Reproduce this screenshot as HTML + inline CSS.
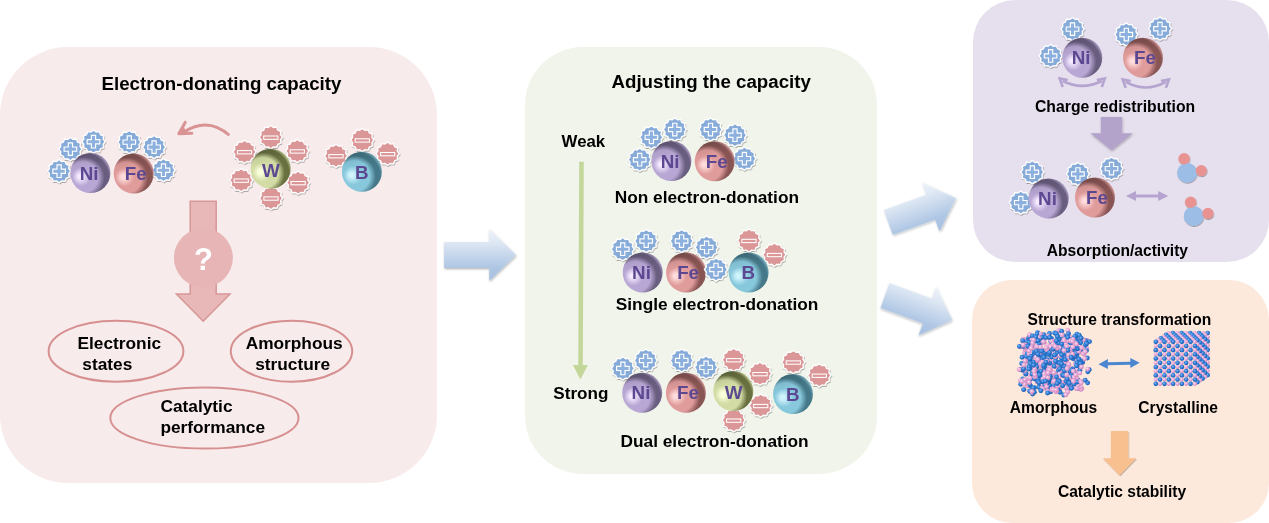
<!DOCTYPE html>
<html><head><meta charset="utf-8"><title>Electron-donating capacity</title>
<style>html,body{margin:0;padding:0;background:#fff;width:1269px;height:523px;overflow:hidden}
svg{display:block;font-family:"Liberation Sans",sans-serif;will-change:transform}</style></head>
<body><svg width="1269" height="523" viewBox="0 0 1269 523" font-family="Liberation Sans, sans-serif"><defs><radialGradient id="gNi" cx="0.37" cy="0.63" r="0.7" fx="0.23" fy="0.58">
<stop offset="0" stop-color="#F5EAFF"/><stop offset="0.07" stop-color="#F5EAFF"/><stop offset="0.33" stop-color="#B8A7D4"/><stop offset="0.55" stop-color="#B8A7D4"/>
<stop offset="0.74" stop-color="#6A5E80"/><stop offset="0.87" stop-color="#6A5E80"/><stop offset="0.98" stop-color="#B4A4CC"/></radialGradient><radialGradient id="gFe" cx="0.37" cy="0.63" r="0.7" fx="0.23" fy="0.58">
<stop offset="0" stop-color="#FFDCDC"/><stop offset="0.07" stop-color="#FFDCDC"/><stop offset="0.33" stop-color="#E09C9B"/><stop offset="0.55" stop-color="#E09C9B"/>
<stop offset="0.74" stop-color="#885454"/><stop offset="0.87" stop-color="#885454"/><stop offset="0.98" stop-color="#DDA0A0"/></radialGradient><radialGradient id="gW" cx="0.37" cy="0.63" r="0.7" fx="0.23" fy="0.58">
<stop offset="0" stop-color="#FAFFDC"/><stop offset="0.07" stop-color="#FAFFDC"/><stop offset="0.33" stop-color="#D2DCA4"/><stop offset="0.55" stop-color="#D2DCA4"/>
<stop offset="0.74" stop-color="#697040"/><stop offset="0.87" stop-color="#697040"/><stop offset="0.98" stop-color="#C4CC94"/></radialGradient><radialGradient id="gB" cx="0.37" cy="0.63" r="0.7" fx="0.23" fy="0.58">
<stop offset="0" stop-color="#D0F4FC"/><stop offset="0.07" stop-color="#D0F4FC"/><stop offset="0.33" stop-color="#88C8DC"/><stop offset="0.55" stop-color="#88C8DC"/>
<stop offset="0.74" stop-color="#457888"/><stop offset="0.87" stop-color="#457888"/><stop offset="0.98" stop-color="#84BACA"/></radialGradient><linearGradient id="gTop" x1="0" y1="0" x2="0.25" y2="1"><stop offset="0" stop-color="#000" stop-opacity="0.16"/><stop offset="0.45" stop-color="#000" stop-opacity="0"/></linearGradient><linearGradient id="gArrow" x1="0" y1="0" x2="0" y2="1">
<stop offset="0" stop-color="#EEF3FA"/><stop offset="0.25" stop-color="#DFE8F4"/><stop offset="0.75" stop-color="#AEC6E4"/><stop offset="1" stop-color="#A6C0E1"/></linearGradient><filter id="sh" x="-30%" y="-30%" width="160%" height="160%">
<feDropShadow dx="0.5" dy="1.0" stdDeviation="0.7" flood-color="#000" flood-opacity="0.36"/></filter><filter id="sh2" x="-30%" y="-30%" width="160%" height="160%">
<feDropShadow dx="0.6" dy="1.2" stdDeviation="0.9" flood-color="#000" flood-opacity="0.3"/></filter><radialGradient id="ab" cx="0.4" cy="0.38" r="0.62"><stop offset="0" stop-color="#7FB6F2"/><stop offset="0.5" stop-color="#2F7DD6"/><stop offset="1" stop-color="#1C5EB0"/></radialGradient><radialGradient id="ap" cx="0.4" cy="0.38" r="0.62"><stop offset="0" stop-color="#FBE0F2"/><stop offset="0.5" stop-color="#E8A8D6"/><stop offset="1" stop-color="#C987B8"/></radialGradient></defs><rect x="0" y="47" width="437" height="436" rx="68" ry="68" fill="#F8EBEC"/>
<rect x="525" y="47" width="352" height="427" rx="58" ry="58" fill="#F1F4EA"/>
<rect x="973" y="0" width="296" height="262" rx="42" ry="42" fill="#E6E0EE"/>
<rect x="972" y="280" width="297" height="243" rx="40" ry="40" fill="#FDE9DB"/>
<text x="101.5" y="90" font-size="18.7" font-weight="bold" fill="#000" text-anchor="start">Electron-donating capacity</text>
<path d="M59.10,159.60 L61.69,161.54 L64.90,161.15 L66.17,164.13 L69.15,165.40 L68.76,168.61 L70.70,171.20 L68.76,173.79 L69.15,177.00 L66.17,178.27 L64.90,181.25 L61.69,180.86 L59.10,182.80 L56.51,180.86 L53.30,181.25 L52.03,178.27 L49.05,177.00 L49.44,173.79 L47.50,171.20 L49.44,168.61 L49.05,165.40 L52.03,164.13 L53.30,161.15 L56.51,161.54Z" fill="#86ABD8" stroke="#FFFFFF" stroke-width="1.3" filter="url(#sh)"/>
<path d="M57.0,164.89999999999998 H61.2 V169.1 H65.4 V173.29999999999998 H61.2 V177.5 H57.0 V173.29999999999998 H52.800000000000004 V169.1 H57.0Z" fill="#8CB1DE" stroke="#FFFFFF" stroke-width="1.15" stroke-linejoin="miter"/>
<path d="M70.40,137.50 L72.99,139.44 L76.20,139.05 L77.47,142.03 L80.45,143.30 L80.06,146.51 L82.00,149.10 L80.06,151.69 L80.45,154.90 L77.47,156.17 L76.20,159.15 L72.99,158.76 L70.40,160.70 L67.81,158.76 L64.60,159.15 L63.33,156.17 L60.35,154.90 L60.74,151.69 L58.80,149.10 L60.74,146.51 L60.35,143.30 L63.33,142.03 L64.60,139.05 L67.81,139.44Z" fill="#86ABD8" stroke="#FFFFFF" stroke-width="1.3" filter="url(#sh)"/>
<path d="M68.30000000000001,142.79999999999998 H72.5 V147.0 H76.7 V151.2 H72.5 V155.4 H68.30000000000001 V151.2 H64.10000000000001 V147.0 H68.30000000000001Z" fill="#8CB1DE" stroke="#FFFFFF" stroke-width="1.15" stroke-linejoin="miter"/>
<path d="M93.50,130.10 L96.09,132.04 L99.30,131.65 L100.57,134.63 L103.55,135.90 L103.16,139.11 L105.10,141.70 L103.16,144.29 L103.55,147.50 L100.57,148.77 L99.30,151.75 L96.09,151.36 L93.50,153.30 L90.91,151.36 L87.70,151.75 L86.43,148.77 L83.45,147.50 L83.84,144.29 L81.90,141.70 L83.84,139.11 L83.45,135.90 L86.43,134.63 L87.70,131.65 L90.91,132.04Z" fill="#86ABD8" stroke="#FFFFFF" stroke-width="1.3" filter="url(#sh)"/>
<path d="M91.4,135.39999999999998 H95.6 V139.6 H99.8 V143.79999999999998 H95.6 V148.0 H91.4 V143.79999999999998 H87.2 V139.6 H91.4Z" fill="#8CB1DE" stroke="#FFFFFF" stroke-width="1.15" stroke-linejoin="miter"/>
<path d="M129.30,130.50 L131.89,132.44 L135.10,132.05 L136.37,135.03 L139.35,136.30 L138.96,139.51 L140.90,142.10 L138.96,144.69 L139.35,147.90 L136.37,149.17 L135.10,152.15 L131.89,151.76 L129.30,153.70 L126.71,151.76 L123.50,152.15 L122.23,149.17 L119.25,147.90 L119.64,144.69 L117.70,142.10 L119.64,139.51 L119.25,136.30 L122.23,135.03 L123.50,132.05 L126.71,132.44Z" fill="#86ABD8" stroke="#FFFFFF" stroke-width="1.3" filter="url(#sh)"/>
<path d="M127.20000000000002,135.79999999999998 H131.4 V140.0 H135.60000000000002 V144.2 H131.4 V148.4 H127.20000000000002 V144.2 H123.00000000000001 V140.0 H127.20000000000002Z" fill="#8CB1DE" stroke="#FFFFFF" stroke-width="1.15" stroke-linejoin="miter"/>
<path d="M154.10,135.50 L156.69,137.44 L159.90,137.05 L161.17,140.03 L164.15,141.30 L163.76,144.51 L165.70,147.10 L163.76,149.69 L164.15,152.90 L161.17,154.17 L159.90,157.15 L156.69,156.76 L154.10,158.70 L151.51,156.76 L148.30,157.15 L147.03,154.17 L144.05,152.90 L144.44,149.69 L142.50,147.10 L144.44,144.51 L144.05,141.30 L147.03,140.03 L148.30,137.05 L151.51,137.44Z" fill="#86ABD8" stroke="#FFFFFF" stroke-width="1.3" filter="url(#sh)"/>
<path d="M152.0,140.79999999999998 H156.2 V145.0 H160.4 V149.2 H156.2 V153.4 H152.0 V149.2 H147.79999999999998 V145.0 H152.0Z" fill="#8CB1DE" stroke="#FFFFFF" stroke-width="1.15" stroke-linejoin="miter"/>
<path d="M163.50,158.60 L166.09,160.54 L169.30,160.15 L170.57,163.13 L173.55,164.40 L173.16,167.61 L175.10,170.20 L173.16,172.79 L173.55,176.00 L170.57,177.27 L169.30,180.25 L166.09,179.86 L163.50,181.80 L160.91,179.86 L157.70,180.25 L156.43,177.27 L153.45,176.00 L153.84,172.79 L151.90,170.20 L153.84,167.61 L153.45,164.40 L156.43,163.13 L157.70,160.15 L160.91,160.54Z" fill="#86ABD8" stroke="#FFFFFF" stroke-width="1.3" filter="url(#sh)"/>
<path d="M161.4,163.89999999999998 H165.6 V168.1 H169.8 V172.29999999999998 H165.6 V176.5 H161.4 V172.29999999999998 H157.2 V168.1 H161.4Z" fill="#8CB1DE" stroke="#FFFFFF" stroke-width="1.15" stroke-linejoin="miter"/>
<circle cx="90.4" cy="173" r="20" fill="url(#gNi)"/>
<circle cx="90.4" cy="173" r="20" fill="url(#gTop)"/>
<text x="89.2" y="179.6" text-anchor="middle" font-size="18.8" font-weight="bold" fill="#5C4891">Ni</text>
<circle cx="133.7" cy="173.5" r="20" fill="url(#gFe)"/>
<circle cx="133.7" cy="173.5" r="20" fill="url(#gTop)"/>
<text x="135.7" y="180.0" text-anchor="middle" font-size="18.8" font-weight="bold" fill="#5C4891">Fe</text>
<path d="M229.3,135.3 Q208,116.5 184,132" fill="none" stroke="#D99393" stroke-width="2.8" stroke-linecap="butt"/>
<path d="M185.2,122.4 L178.8,133.7 L191.8,133.2" fill="none" stroke="#D99393" stroke-width="3" stroke-linejoin="round" stroke-linecap="round"/>
<path d="M178.8,133.7 L183.6,125.8 L186.5,133.4Z" fill="#D99393"/>
<path d="M270.80,125.60 L273.39,127.54 L276.60,127.15 L277.87,130.13 L280.85,131.40 L280.46,134.61 L282.40,137.20 L280.46,139.79 L280.85,143.00 L277.87,144.27 L276.60,147.25 L273.39,146.86 L270.80,148.80 L268.21,146.86 L265.00,147.25 L263.73,144.27 L260.75,143.00 L261.14,139.79 L259.20,137.20 L261.14,134.61 L260.75,131.40 L263.73,130.13 L265.00,127.15 L268.21,127.54Z" fill="#DB9697" stroke="#FFFFFF" stroke-width="1.3" filter="url(#sh)"/>
<rect x="263.7" y="136.0" width="14.2" height="3.3" fill="#DB9697" stroke="#FFFFFF" stroke-width="1.05"/>
<path d="M244.50,140.20 L247.09,142.14 L250.30,141.75 L251.57,144.73 L254.55,146.00 L254.16,149.21 L256.10,151.80 L254.16,154.39 L254.55,157.60 L251.57,158.87 L250.30,161.85 L247.09,161.46 L244.50,163.40 L241.91,161.46 L238.70,161.85 L237.43,158.87 L234.45,157.60 L234.84,154.39 L232.90,151.80 L234.84,149.21 L234.45,146.00 L237.43,144.73 L238.70,141.75 L241.91,142.14Z" fill="#DB9697" stroke="#FFFFFF" stroke-width="1.3" filter="url(#sh)"/>
<rect x="237.4" y="150.60000000000002" width="14.2" height="3.3" fill="#DB9697" stroke="#FFFFFF" stroke-width="1.05"/>
<path d="M297.30,139.40 L299.89,141.34 L303.10,140.95 L304.37,143.93 L307.35,145.20 L306.96,148.41 L308.90,151.00 L306.96,153.59 L307.35,156.80 L304.37,158.07 L303.10,161.05 L299.89,160.66 L297.30,162.60 L294.71,160.66 L291.50,161.05 L290.23,158.07 L287.25,156.80 L287.64,153.59 L285.70,151.00 L287.64,148.41 L287.25,145.20 L290.23,143.93 L291.50,140.95 L294.71,141.34Z" fill="#DB9697" stroke="#FFFFFF" stroke-width="1.3" filter="url(#sh)"/>
<rect x="290.2" y="149.8" width="14.2" height="3.3" fill="#DB9697" stroke="#FFFFFF" stroke-width="1.05"/>
<path d="M241.20,168.60 L243.79,170.54 L247.00,170.15 L248.27,173.13 L251.25,174.40 L250.86,177.61 L252.80,180.20 L250.86,182.79 L251.25,186.00 L248.27,187.27 L247.00,190.25 L243.79,189.86 L241.20,191.80 L238.61,189.86 L235.40,190.25 L234.13,187.27 L231.15,186.00 L231.54,182.79 L229.60,180.20 L231.54,177.61 L231.15,174.40 L234.13,173.13 L235.40,170.15 L238.61,170.54Z" fill="#DB9697" stroke="#FFFFFF" stroke-width="1.3" filter="url(#sh)"/>
<rect x="234.1" y="179.0" width="14.2" height="3.3" fill="#DB9697" stroke="#FFFFFF" stroke-width="1.05"/>
<path d="M298.10,171.10 L300.69,173.04 L303.90,172.65 L305.17,175.63 L308.15,176.90 L307.76,180.11 L309.70,182.70 L307.76,185.29 L308.15,188.50 L305.17,189.77 L303.90,192.75 L300.69,192.36 L298.10,194.30 L295.51,192.36 L292.30,192.75 L291.03,189.77 L288.05,188.50 L288.44,185.29 L286.50,182.70 L288.44,180.11 L288.05,176.90 L291.03,175.63 L292.30,172.65 L295.51,173.04Z" fill="#DB9697" stroke="#FFFFFF" stroke-width="1.3" filter="url(#sh)"/>
<rect x="291.0" y="181.5" width="14.2" height="3.3" fill="#DB9697" stroke="#FFFFFF" stroke-width="1.05"/>
<path d="M271.00,186.50 L273.59,188.44 L276.80,188.05 L278.07,191.03 L281.05,192.30 L280.66,195.51 L282.60,198.10 L280.66,200.69 L281.05,203.90 L278.07,205.17 L276.80,208.15 L273.59,207.76 L271.00,209.70 L268.41,207.76 L265.20,208.15 L263.93,205.17 L260.95,203.90 L261.34,200.69 L259.40,198.10 L261.34,195.51 L260.95,192.30 L263.93,191.03 L265.20,188.05 L268.41,188.44Z" fill="#DB9697" stroke="#FFFFFF" stroke-width="1.3" filter="url(#sh)"/>
<rect x="263.9" y="196.9" width="14.2" height="3.3" fill="#DB9697" stroke="#FFFFFF" stroke-width="1.05"/>
<circle cx="270.7" cy="168.7" r="20" fill="url(#gW)"/>
<circle cx="270.7" cy="168.7" r="20" fill="url(#gTop)"/>
<text x="270.9" y="176.7" text-anchor="middle" font-size="18.8" font-weight="bold" fill="#5C4891">W</text>
<path d="M362.30,128.40 L364.89,130.34 L368.10,129.95 L369.37,132.93 L372.35,134.20 L371.96,137.41 L373.90,140.00 L371.96,142.59 L372.35,145.80 L369.37,147.07 L368.10,150.05 L364.89,149.66 L362.30,151.60 L359.71,149.66 L356.50,150.05 L355.23,147.07 L352.25,145.80 L352.64,142.59 L350.70,140.00 L352.64,137.41 L352.25,134.20 L355.23,132.93 L356.50,129.95 L359.71,130.34Z" fill="#DB9697" stroke="#FFFFFF" stroke-width="1.3" filter="url(#sh)"/>
<rect x="355.2" y="138.8" width="14.2" height="3.3" fill="#DB9697" stroke="#FFFFFF" stroke-width="1.05"/>
<path d="M336.00,144.20 L338.59,146.14 L341.80,145.75 L343.07,148.73 L346.05,150.00 L345.66,153.21 L347.60,155.80 L345.66,158.39 L346.05,161.60 L343.07,162.87 L341.80,165.85 L338.59,165.46 L336.00,167.40 L333.41,165.46 L330.20,165.85 L328.93,162.87 L325.95,161.60 L326.34,158.39 L324.40,155.80 L326.34,153.21 L325.95,150.00 L328.93,148.73 L330.20,145.75 L333.41,146.14Z" fill="#DB9697" stroke="#FFFFFF" stroke-width="1.3" filter="url(#sh)"/>
<rect x="328.9" y="154.60000000000002" width="14.2" height="3.3" fill="#DB9697" stroke="#FFFFFF" stroke-width="1.05"/>
<path d="M387.60,142.10 L390.19,144.04 L393.40,143.65 L394.67,146.63 L397.65,147.90 L397.26,151.11 L399.20,153.70 L397.26,156.29 L397.65,159.50 L394.67,160.77 L393.40,163.75 L390.19,163.36 L387.60,165.30 L385.01,163.36 L381.80,163.75 L380.53,160.77 L377.55,159.50 L377.94,156.29 L376.00,153.70 L377.94,151.11 L377.55,147.90 L380.53,146.63 L381.80,143.65 L385.01,144.04Z" fill="#DB9697" stroke="#FFFFFF" stroke-width="1.3" filter="url(#sh)"/>
<rect x="380.5" y="152.5" width="14.2" height="3.3" fill="#DB9697" stroke="#FFFFFF" stroke-width="1.05"/>
<circle cx="361.9" cy="171.8" r="20" fill="url(#gB)"/>
<circle cx="361.9" cy="171.8" r="20" fill="url(#gTop)"/>
<text x="361.7" y="178.5" text-anchor="middle" font-size="18.8" font-weight="bold" fill="#5C4891">B</text>
<path d="M190.20,201.30 L216.20,201.30 L216.20,294.00 L230.00,294.00 L203.20,321.30 L176.40,294.00 L190.20,294.00Z" fill="#E8B8B8" stroke="#D79797" stroke-width="1.5"/>
<circle cx="203.4" cy="257.8" r="29.5" fill="#E7B5B6"/>
<text x="203.4" y="269.5" text-anchor="middle" font-size="31" font-weight="bold" fill="#FFFFFF">?</text>
<ellipse cx="116" cy="351.2" rx="67.4" ry="30.5" fill="none" stroke="#D69090" stroke-width="2"/>
<ellipse cx="291.5" cy="351.2" rx="60.7" ry="30.5" fill="none" stroke="#D69090" stroke-width="2"/>
<ellipse cx="204.4" cy="418" rx="94.1" ry="30.6" fill="none" stroke="#D69090" stroke-width="2"/>
<text x="77.5" y="348.7" font-size="17.3" font-weight="bold" fill="#000" text-anchor="start">Electronic</text>
<text x="82.3" y="369.5" font-size="17.3" font-weight="bold" fill="#000" text-anchor="start">states</text>
<text x="245.7" y="348.7" font-size="17.3" font-weight="bold" fill="#000" text-anchor="start">Amorphous</text>
<text x="255.20000000000002" y="369.5" font-size="17.3" font-weight="bold" fill="#000" text-anchor="start">structure</text>
<text x="160.5" y="412.3" font-size="17.3" font-weight="bold" fill="#000" text-anchor="start">Catalytic</text>
<text x="160.4" y="432.6" font-size="17.3" font-weight="bold" fill="#000" text-anchor="start">performance</text>
<g transform="translate(444.1,255) rotate(0)"><path d="M0.00,-12.90 L45.10,-12.90 L45.10,-26.10 L71.90,0.00 L45.10,26.10 L45.10,12.90 L0.00,12.90Z" fill="url(#gArrow)" filter="url(#sh2)"/></g>
<g transform="translate(888.2,222.5) rotate(-19.8)"><path d="M0.00,-13.25 L45.10,-13.25 L45.10,-26.10 L71.90,0.00 L45.10,26.10 L45.10,13.25 L0.00,13.25Z" fill="url(#gArrow)" filter="url(#sh2)"/></g>
<g transform="translate(885.0,295.5) rotate(20.0)"><path d="M0.00,-13.25 L45.10,-13.25 L45.10,-26.10 L71.90,0.00 L45.10,26.10 L45.10,13.25 L0.00,13.25Z" fill="url(#gArrow)" filter="url(#sh2)"/></g>
<text x="611.5" y="87.5" font-size="18.7" font-weight="bold" fill="#000" text-anchor="start">Adjusting the capacity</text>
<text x="561.6" y="146.9" font-size="16.8" font-weight="bold" fill="#000" text-anchor="start">Weak</text>
<text x="553.3" y="398.6" font-size="17.1" font-weight="bold" fill="#000" text-anchor="start">Strong</text>
<path d="M579.2,161.7 L583.8,161.7 L582.8,365.5 L578.2,365.5Z" fill="#C4D79B"/>
<path d="M572.9,365 L587.9,365 L580.4,379.4Z" fill="#C4D79B"/>
<path d="M639.70,148.10 L642.29,150.04 L645.50,149.65 L646.77,152.63 L649.75,153.90 L649.36,157.11 L651.30,159.70 L649.36,162.29 L649.75,165.50 L646.77,166.77 L645.50,169.75 L642.29,169.36 L639.70,171.30 L637.11,169.36 L633.90,169.75 L632.63,166.77 L629.65,165.50 L630.04,162.29 L628.10,159.70 L630.04,157.11 L629.65,153.90 L632.63,152.63 L633.90,149.65 L637.11,150.04Z" fill="#86ABD8" stroke="#FFFFFF" stroke-width="1.3" filter="url(#sh)"/>
<path d="M637.6,153.39999999999998 H641.8000000000001 V157.6 H646.0 V161.79999999999998 H641.8000000000001 V166.0 H637.6 V161.79999999999998 H633.4000000000001 V157.6 H637.6Z" fill="#8CB1DE" stroke="#FFFFFF" stroke-width="1.15" stroke-linejoin="miter"/>
<path d="M651.40,125.70 L653.99,127.64 L657.20,127.25 L658.47,130.23 L661.45,131.50 L661.06,134.71 L663.00,137.30 L661.06,139.89 L661.45,143.10 L658.47,144.37 L657.20,147.35 L653.99,146.96 L651.40,148.90 L648.81,146.96 L645.60,147.35 L644.33,144.37 L641.35,143.10 L641.74,139.89 L639.80,137.30 L641.74,134.71 L641.35,131.50 L644.33,130.23 L645.60,127.25 L648.81,127.64Z" fill="#86ABD8" stroke="#FFFFFF" stroke-width="1.3" filter="url(#sh)"/>
<path d="M649.3,131.0 H653.5 V135.20000000000002 H657.6999999999999 V139.4 H653.5 V143.60000000000002 H649.3 V139.4 H645.1 V135.20000000000002 H649.3Z" fill="#8CB1DE" stroke="#FFFFFF" stroke-width="1.15" stroke-linejoin="miter"/>
<path d="M674.80,117.90 L677.39,119.84 L680.60,119.45 L681.87,122.43 L684.85,123.70 L684.46,126.91 L686.40,129.50 L684.46,132.09 L684.85,135.30 L681.87,136.57 L680.60,139.55 L677.39,139.16 L674.80,141.10 L672.21,139.16 L669.00,139.55 L667.73,136.57 L664.75,135.30 L665.14,132.09 L663.20,129.50 L665.14,126.91 L664.75,123.70 L667.73,122.43 L669.00,119.45 L672.21,119.84Z" fill="#86ABD8" stroke="#FFFFFF" stroke-width="1.3" filter="url(#sh)"/>
<path d="M672.6999999999999,123.2 H676.9 V127.4 H681.0999999999999 V131.6 H676.9 V135.8 H672.6999999999999 V131.6 H668.5 V127.4 H672.6999999999999Z" fill="#8CB1DE" stroke="#FFFFFF" stroke-width="1.15" stroke-linejoin="miter"/>
<path d="M710.50,117.90 L713.09,119.84 L716.30,119.45 L717.57,122.43 L720.55,123.70 L720.16,126.91 L722.10,129.50 L720.16,132.09 L720.55,135.30 L717.57,136.57 L716.30,139.55 L713.09,139.16 L710.50,141.10 L707.91,139.16 L704.70,139.55 L703.43,136.57 L700.45,135.30 L700.84,132.09 L698.90,129.50 L700.84,126.91 L700.45,123.70 L703.43,122.43 L704.70,119.45 L707.91,119.84Z" fill="#86ABD8" stroke="#FFFFFF" stroke-width="1.3" filter="url(#sh)"/>
<path d="M708.4,123.2 H712.6 V127.4 H716.8 V131.6 H712.6 V135.8 H708.4 V131.6 H704.2 V127.4 H708.4Z" fill="#8CB1DE" stroke="#FFFFFF" stroke-width="1.15" stroke-linejoin="miter"/>
<path d="M735.00,123.60 L737.59,125.54 L740.80,125.15 L742.07,128.13 L745.05,129.40 L744.66,132.61 L746.60,135.20 L744.66,137.79 L745.05,141.00 L742.07,142.27 L740.80,145.25 L737.59,144.86 L735.00,146.80 L732.41,144.86 L729.20,145.25 L727.93,142.27 L724.95,141.00 L725.34,137.79 L723.40,135.20 L725.34,132.61 L724.95,129.40 L727.93,128.13 L729.20,125.15 L732.41,125.54Z" fill="#86ABD8" stroke="#FFFFFF" stroke-width="1.3" filter="url(#sh)"/>
<path d="M732.9,128.89999999999998 H737.1 V133.1 H741.3 V137.29999999999998 H737.1 V141.5 H732.9 V137.29999999999998 H728.7 V133.1 H732.9Z" fill="#8CB1DE" stroke="#FFFFFF" stroke-width="1.15" stroke-linejoin="miter"/>
<path d="M744.40,147.00 L746.99,148.94 L750.20,148.55 L751.47,151.53 L754.45,152.80 L754.06,156.01 L756.00,158.60 L754.06,161.19 L754.45,164.40 L751.47,165.67 L750.20,168.65 L746.99,168.26 L744.40,170.20 L741.81,168.26 L738.60,168.65 L737.33,165.67 L734.35,164.40 L734.74,161.19 L732.80,158.60 L734.74,156.01 L734.35,152.80 L737.33,151.53 L738.60,148.55 L741.81,148.94Z" fill="#86ABD8" stroke="#FFFFFF" stroke-width="1.3" filter="url(#sh)"/>
<path d="M742.3,152.29999999999998 H746.5 V156.5 H750.6999999999999 V160.7 H746.5 V164.9 H742.3 V160.7 H738.1 V156.5 H742.3Z" fill="#8CB1DE" stroke="#FFFFFF" stroke-width="1.15" stroke-linejoin="miter"/>
<circle cx="671.4" cy="161" r="20" fill="url(#gNi)"/>
<circle cx="671.4" cy="161" r="20" fill="url(#gTop)"/>
<text x="670.1999999999999" y="167.6" text-anchor="middle" font-size="18.8" font-weight="bold" fill="#5C4891">Ni</text>
<circle cx="714.7" cy="161.3" r="20" fill="url(#gFe)"/>
<circle cx="714.7" cy="161.3" r="20" fill="url(#gTop)"/>
<text x="716.7" y="167.8" text-anchor="middle" font-size="18.8" font-weight="bold" fill="#5C4891">Fe</text>
<text x="614.6999999999999" y="202.7" font-size="17.3" font-weight="bold" fill="#000" text-anchor="start">Non electron-donation</text>
<path d="M622.70,237.60 L625.29,239.54 L628.50,239.15 L629.77,242.13 L632.75,243.40 L632.36,246.61 L634.30,249.20 L632.36,251.79 L632.75,255.00 L629.77,256.27 L628.50,259.25 L625.29,258.86 L622.70,260.80 L620.11,258.86 L616.90,259.25 L615.63,256.27 L612.65,255.00 L613.04,251.79 L611.10,249.20 L613.04,246.61 L612.65,243.40 L615.63,242.13 L616.90,239.15 L620.11,239.54Z" fill="#86ABD8" stroke="#FFFFFF" stroke-width="1.3" filter="url(#sh)"/>
<path d="M620.6,242.89999999999998 H624.8000000000001 V247.1 H629.0 V251.29999999999998 H624.8000000000001 V255.5 H620.6 V251.29999999999998 H616.4000000000001 V247.1 H620.6Z" fill="#8CB1DE" stroke="#FFFFFF" stroke-width="1.15" stroke-linejoin="miter"/>
<path d="M646.20,229.40 L648.79,231.34 L652.00,230.95 L653.27,233.93 L656.25,235.20 L655.86,238.41 L657.80,241.00 L655.86,243.59 L656.25,246.80 L653.27,248.07 L652.00,251.05 L648.79,250.66 L646.20,252.60 L643.61,250.66 L640.40,251.05 L639.13,248.07 L636.15,246.80 L636.54,243.59 L634.60,241.00 L636.54,238.41 L636.15,235.20 L639.13,233.93 L640.40,230.95 L643.61,231.34Z" fill="#86ABD8" stroke="#FFFFFF" stroke-width="1.3" filter="url(#sh)"/>
<path d="M644.1,234.7 H648.3000000000001 V238.9 H652.5 V243.1 H648.3000000000001 V247.3 H644.1 V243.1 H639.9000000000001 V238.9 H644.1Z" fill="#8CB1DE" stroke="#FFFFFF" stroke-width="1.15" stroke-linejoin="miter"/>
<path d="M681.60,229.40 L684.19,231.34 L687.40,230.95 L688.67,233.93 L691.65,235.20 L691.26,238.41 L693.20,241.00 L691.26,243.59 L691.65,246.80 L688.67,248.07 L687.40,251.05 L684.19,250.66 L681.60,252.60 L679.01,250.66 L675.80,251.05 L674.53,248.07 L671.55,246.80 L671.94,243.59 L670.00,241.00 L671.94,238.41 L671.55,235.20 L674.53,233.93 L675.80,230.95 L679.01,231.34Z" fill="#86ABD8" stroke="#FFFFFF" stroke-width="1.3" filter="url(#sh)"/>
<path d="M679.5,234.7 H683.7 V238.9 H687.9 V243.1 H683.7 V247.3 H679.5 V243.1 H675.3000000000001 V238.9 H679.5Z" fill="#8CB1DE" stroke="#FFFFFF" stroke-width="1.15" stroke-linejoin="miter"/>
<path d="M706.60,235.80 L709.19,237.74 L712.40,237.35 L713.67,240.33 L716.65,241.60 L716.26,244.81 L718.20,247.40 L716.26,249.99 L716.65,253.20 L713.67,254.47 L712.40,257.45 L709.19,257.06 L706.60,259.00 L704.01,257.06 L700.80,257.45 L699.53,254.47 L696.55,253.20 L696.94,249.99 L695.00,247.40 L696.94,244.81 L696.55,241.60 L699.53,240.33 L700.80,237.35 L704.01,237.74Z" fill="#86ABD8" stroke="#FFFFFF" stroke-width="1.3" filter="url(#sh)"/>
<path d="M704.5,241.1 H708.7 V245.3 H712.9 V249.5 H708.7 V253.70000000000002 H704.5 V249.5 H700.3000000000001 V245.3 H704.5Z" fill="#8CB1DE" stroke="#FFFFFF" stroke-width="1.15" stroke-linejoin="miter"/>
<path d="M749.00,228.90 L751.59,230.84 L754.80,230.45 L756.07,233.43 L759.05,234.70 L758.66,237.91 L760.60,240.50 L758.66,243.09 L759.05,246.30 L756.07,247.57 L754.80,250.55 L751.59,250.16 L749.00,252.10 L746.41,250.16 L743.20,250.55 L741.93,247.57 L738.95,246.30 L739.34,243.09 L737.40,240.50 L739.34,237.91 L738.95,234.70 L741.93,233.43 L743.20,230.45 L746.41,230.84Z" fill="#DB9697" stroke="#FFFFFF" stroke-width="1.3" filter="url(#sh)"/>
<rect x="741.9" y="239.3" width="14.2" height="3.3" fill="#DB9697" stroke="#FFFFFF" stroke-width="1.05"/>
<path d="M774.40,243.00 L776.99,244.94 L780.20,244.55 L781.47,247.53 L784.45,248.80 L784.06,252.01 L786.00,254.60 L784.06,257.19 L784.45,260.40 L781.47,261.67 L780.20,264.65 L776.99,264.26 L774.40,266.20 L771.81,264.26 L768.60,264.65 L767.33,261.67 L764.35,260.40 L764.74,257.19 L762.80,254.60 L764.74,252.01 L764.35,248.80 L767.33,247.53 L768.60,244.55 L771.81,244.94Z" fill="#DB9697" stroke="#FFFFFF" stroke-width="1.3" filter="url(#sh)"/>
<rect x="767.3" y="253.4" width="14.2" height="3.3" fill="#DB9697" stroke="#FFFFFF" stroke-width="1.05"/>
<circle cx="642.7" cy="272.5" r="20" fill="url(#gNi)"/>
<circle cx="642.7" cy="272.5" r="20" fill="url(#gTop)"/>
<text x="641.5" y="279.1" text-anchor="middle" font-size="18.8" font-weight="bold" fill="#5C4891">Ni</text>
<circle cx="686.1" cy="272.5" r="20" fill="url(#gFe)"/>
<circle cx="686.1" cy="272.5" r="20" fill="url(#gTop)"/>
<text x="688.1" y="279.0" text-anchor="middle" font-size="18.8" font-weight="bold" fill="#5C4891">Fe</text>
<path d="M716.00,257.90 L718.59,259.84 L721.80,259.45 L723.07,262.43 L726.05,263.70 L725.66,266.91 L727.60,269.50 L725.66,272.09 L726.05,275.30 L723.07,276.57 L721.80,279.55 L718.59,279.16 L716.00,281.10 L713.41,279.16 L710.20,279.55 L708.93,276.57 L705.95,275.30 L706.34,272.09 L704.40,269.50 L706.34,266.91 L705.95,263.70 L708.93,262.43 L710.20,259.45 L713.41,259.84Z" fill="#86ABD8" stroke="#FFFFFF" stroke-width="1.3" filter="url(#sh)"/>
<path d="M713.9,263.2 H718.1 V267.4 H722.3 V271.6 H718.1 V275.8 H713.9 V271.6 H709.7 V267.4 H713.9Z" fill="#8CB1DE" stroke="#FFFFFF" stroke-width="1.15" stroke-linejoin="miter"/>
<circle cx="748.6" cy="272.5" r="20" fill="url(#gB)"/>
<circle cx="748.6" cy="272.5" r="20" fill="url(#gTop)"/>
<text x="748.4" y="279.2" text-anchor="middle" font-size="18.8" font-weight="bold" fill="#5C4891">B</text>
<text x="615.8" y="309.9" font-size="17.3" font-weight="bold" fill="#000" text-anchor="start">Single electron-donation</text>
<path d="M622.90,356.80 L625.49,358.74 L628.70,358.35 L629.97,361.33 L632.95,362.60 L632.56,365.81 L634.50,368.40 L632.56,370.99 L632.95,374.20 L629.97,375.47 L628.70,378.45 L625.49,378.06 L622.90,380.00 L620.31,378.06 L617.10,378.45 L615.83,375.47 L612.85,374.20 L613.24,370.99 L611.30,368.40 L613.24,365.81 L612.85,362.60 L615.83,361.33 L617.10,358.35 L620.31,358.74Z" fill="#86ABD8" stroke="#FFFFFF" stroke-width="1.3" filter="url(#sh)"/>
<path d="M620.8,362.09999999999997 H625.0 V366.29999999999995 H629.1999999999999 V370.5 H625.0 V374.7 H620.8 V370.5 H616.6 V366.29999999999995 H620.8Z" fill="#8CB1DE" stroke="#FFFFFF" stroke-width="1.15" stroke-linejoin="miter"/>
<path d="M645.70,348.90 L648.29,350.84 L651.50,350.45 L652.77,353.43 L655.75,354.70 L655.36,357.91 L657.30,360.50 L655.36,363.09 L655.75,366.30 L652.77,367.57 L651.50,370.55 L648.29,370.16 L645.70,372.10 L643.11,370.16 L639.90,370.55 L638.63,367.57 L635.65,366.30 L636.04,363.09 L634.10,360.50 L636.04,357.91 L635.65,354.70 L638.63,353.43 L639.90,350.45 L643.11,350.84Z" fill="#86ABD8" stroke="#FFFFFF" stroke-width="1.3" filter="url(#sh)"/>
<path d="M643.6,354.2 H647.8000000000001 V358.4 H652.0 V362.6 H647.8000000000001 V366.8 H643.6 V362.6 H639.4000000000001 V358.4 H643.6Z" fill="#8CB1DE" stroke="#FFFFFF" stroke-width="1.15" stroke-linejoin="miter"/>
<path d="M681.70,348.90 L684.29,350.84 L687.50,350.45 L688.77,353.43 L691.75,354.70 L691.36,357.91 L693.30,360.50 L691.36,363.09 L691.75,366.30 L688.77,367.57 L687.50,370.55 L684.29,370.16 L681.70,372.10 L679.11,370.16 L675.90,370.55 L674.63,367.57 L671.65,366.30 L672.04,363.09 L670.10,360.50 L672.04,357.91 L671.65,354.70 L674.63,353.43 L675.90,350.45 L679.11,350.84Z" fill="#86ABD8" stroke="#FFFFFF" stroke-width="1.3" filter="url(#sh)"/>
<path d="M679.6,354.2 H683.8000000000001 V358.4 H688.0 V362.6 H683.8000000000001 V366.8 H679.6 V362.6 H675.4000000000001 V358.4 H679.6Z" fill="#8CB1DE" stroke="#FFFFFF" stroke-width="1.15" stroke-linejoin="miter"/>
<path d="M706.10,355.80 L708.69,357.74 L711.90,357.35 L713.17,360.33 L716.15,361.60 L715.76,364.81 L717.70,367.40 L715.76,369.99 L716.15,373.20 L713.17,374.47 L711.90,377.45 L708.69,377.06 L706.10,379.00 L703.51,377.06 L700.30,377.45 L699.03,374.47 L696.05,373.20 L696.44,369.99 L694.50,367.40 L696.44,364.81 L696.05,361.60 L699.03,360.33 L700.30,357.35 L703.51,357.74Z" fill="#86ABD8" stroke="#FFFFFF" stroke-width="1.3" filter="url(#sh)"/>
<path d="M704.0,361.09999999999997 H708.2 V365.29999999999995 H712.4 V369.5 H708.2 V373.7 H704.0 V369.5 H699.8000000000001 V365.29999999999995 H704.0Z" fill="#8CB1DE" stroke="#FFFFFF" stroke-width="1.15" stroke-linejoin="miter"/>
<path d="M733.70,348.20 L736.29,350.14 L739.50,349.75 L740.77,352.73 L743.75,354.00 L743.36,357.21 L745.30,359.80 L743.36,362.39 L743.75,365.60 L740.77,366.87 L739.50,369.85 L736.29,369.46 L733.70,371.40 L731.11,369.46 L727.90,369.85 L726.63,366.87 L723.65,365.60 L724.04,362.39 L722.10,359.80 L724.04,357.21 L723.65,354.00 L726.63,352.73 L727.90,349.75 L731.11,350.14Z" fill="#DB9697" stroke="#FFFFFF" stroke-width="1.3" filter="url(#sh)"/>
<rect x="726.6" y="358.6" width="14.2" height="3.3" fill="#DB9697" stroke="#FFFFFF" stroke-width="1.05"/>
<path d="M760.00,362.10 L762.59,364.04 L765.80,363.65 L767.07,366.63 L770.05,367.90 L769.66,371.11 L771.60,373.70 L769.66,376.29 L770.05,379.50 L767.07,380.77 L765.80,383.75 L762.59,383.36 L760.00,385.30 L757.41,383.36 L754.20,383.75 L752.93,380.77 L749.95,379.50 L750.34,376.29 L748.40,373.70 L750.34,371.11 L749.95,367.90 L752.93,366.63 L754.20,363.65 L757.41,364.04Z" fill="#DB9697" stroke="#FFFFFF" stroke-width="1.3" filter="url(#sh)"/>
<rect x="752.9" y="372.5" width="14.2" height="3.3" fill="#DB9697" stroke="#FFFFFF" stroke-width="1.05"/>
<path d="M760.70,394.00 L763.29,395.94 L766.50,395.55 L767.77,398.53 L770.75,399.80 L770.36,403.01 L772.30,405.60 L770.36,408.19 L770.75,411.40 L767.77,412.67 L766.50,415.65 L763.29,415.26 L760.70,417.20 L758.11,415.26 L754.90,415.65 L753.63,412.67 L750.65,411.40 L751.04,408.19 L749.10,405.60 L751.04,403.01 L750.65,399.80 L753.63,398.53 L754.90,395.55 L758.11,395.94Z" fill="#DB9697" stroke="#FFFFFF" stroke-width="1.3" filter="url(#sh)"/>
<rect x="753.6" y="404.40000000000003" width="14.2" height="3.3" fill="#DB9697" stroke="#FFFFFF" stroke-width="1.05"/>
<path d="M733.70,408.60 L736.29,410.54 L739.50,410.15 L740.77,413.13 L743.75,414.40 L743.36,417.61 L745.30,420.20 L743.36,422.79 L743.75,426.00 L740.77,427.27 L739.50,430.25 L736.29,429.86 L733.70,431.80 L731.11,429.86 L727.90,430.25 L726.63,427.27 L723.65,426.00 L724.04,422.79 L722.10,420.20 L724.04,417.61 L723.65,414.40 L726.63,413.13 L727.90,410.15 L731.11,410.54Z" fill="#DB9697" stroke="#FFFFFF" stroke-width="1.3" filter="url(#sh)"/>
<rect x="726.6" y="419.0" width="14.2" height="3.3" fill="#DB9697" stroke="#FFFFFF" stroke-width="1.05"/>
<path d="M793.30,350.50 L795.89,352.44 L799.10,352.05 L800.37,355.03 L803.35,356.30 L802.96,359.51 L804.90,362.10 L802.96,364.69 L803.35,367.90 L800.37,369.17 L799.10,372.15 L795.89,371.76 L793.30,373.70 L790.71,371.76 L787.50,372.15 L786.23,369.17 L783.25,367.90 L783.64,364.69 L781.70,362.10 L783.64,359.51 L783.25,356.30 L786.23,355.03 L787.50,352.05 L790.71,352.44Z" fill="#DB9697" stroke="#FFFFFF" stroke-width="1.3" filter="url(#sh)"/>
<rect x="786.1999999999999" y="360.90000000000003" width="14.2" height="3.3" fill="#DB9697" stroke="#FFFFFF" stroke-width="1.05"/>
<path d="M819.30,363.70 L821.89,365.64 L825.10,365.25 L826.37,368.23 L829.35,369.50 L828.96,372.71 L830.90,375.30 L828.96,377.89 L829.35,381.10 L826.37,382.37 L825.10,385.35 L821.89,384.96 L819.30,386.90 L816.71,384.96 L813.50,385.35 L812.23,382.37 L809.25,381.10 L809.64,377.89 L807.70,375.30 L809.64,372.71 L809.25,369.50 L812.23,368.23 L813.50,365.25 L816.71,365.64Z" fill="#DB9697" stroke="#FFFFFF" stroke-width="1.3" filter="url(#sh)"/>
<rect x="812.1999999999999" y="374.1" width="14.2" height="3.3" fill="#DB9697" stroke="#FFFFFF" stroke-width="1.05"/>
<circle cx="642.2" cy="392.8" r="20" fill="url(#gNi)"/>
<circle cx="642.2" cy="392.8" r="20" fill="url(#gTop)"/>
<text x="641.0" y="399.40000000000003" text-anchor="middle" font-size="18.8" font-weight="bold" fill="#5C4891">Ni</text>
<circle cx="685.9" cy="392.8" r="20" fill="url(#gFe)"/>
<circle cx="685.9" cy="392.8" r="20" fill="url(#gTop)"/>
<text x="687.9" y="399.3" text-anchor="middle" font-size="18.8" font-weight="bold" fill="#5C4891">Fe</text>
<circle cx="733.3" cy="391.1" r="20" fill="url(#gW)"/>
<circle cx="733.3" cy="391.1" r="20" fill="url(#gTop)"/>
<text x="733.5" y="399.1" text-anchor="middle" font-size="18.8" font-weight="bold" fill="#5C4891">W</text>
<circle cx="793" cy="394.1" r="20" fill="url(#gB)"/>
<circle cx="793" cy="394.1" r="20" fill="url(#gTop)"/>
<text x="792.8" y="400.8" text-anchor="middle" font-size="18.8" font-weight="bold" fill="#5C4891">B</text>
<text x="620.5" y="446.5" font-size="17.3" font-weight="bold" fill="#000" text-anchor="start">Dual electron-donation</text>
<path d="M1050.60,44.30 L1053.19,46.24 L1056.40,45.85 L1057.67,48.83 L1060.65,50.10 L1060.26,53.31 L1062.20,55.90 L1060.26,58.49 L1060.65,61.70 L1057.67,62.97 L1056.40,65.95 L1053.19,65.56 L1050.60,67.50 L1048.01,65.56 L1044.80,65.95 L1043.53,62.97 L1040.55,61.70 L1040.94,58.49 L1039.00,55.90 L1040.94,53.31 L1040.55,50.10 L1043.53,48.83 L1044.80,45.85 L1048.01,46.24Z" fill="#86ABD8" stroke="#FFFFFF" stroke-width="1.3" filter="url(#sh)"/>
<path d="M1048.5,49.6 H1052.6999999999998 V53.8 H1056.8999999999999 V58.0 H1052.6999999999998 V62.199999999999996 H1048.5 V58.0 H1044.3 V53.8 H1048.5Z" fill="#8CB1DE" stroke="#FFFFFF" stroke-width="1.15" stroke-linejoin="miter"/>
<path d="M1072.50,17.50 L1075.09,19.44 L1078.30,19.05 L1079.57,22.03 L1082.55,23.30 L1082.16,26.51 L1084.10,29.10 L1082.16,31.69 L1082.55,34.90 L1079.57,36.17 L1078.30,39.15 L1075.09,38.76 L1072.50,40.70 L1069.91,38.76 L1066.70,39.15 L1065.43,36.17 L1062.45,34.90 L1062.84,31.69 L1060.90,29.10 L1062.84,26.51 L1062.45,23.30 L1065.43,22.03 L1066.70,19.05 L1069.91,19.44Z" fill="#86ABD8" stroke="#FFFFFF" stroke-width="1.3" filter="url(#sh)"/>
<path d="M1070.4,22.8 H1074.6 V27.0 H1078.8 V31.200000000000003 H1074.6 V35.4 H1070.4 V31.200000000000003 H1066.2 V27.0 H1070.4Z" fill="#8CB1DE" stroke="#FFFFFF" stroke-width="1.15" stroke-linejoin="miter"/>
<path d="M1126.30,22.90 L1128.89,24.84 L1132.10,24.45 L1133.37,27.43 L1136.35,28.70 L1135.96,31.91 L1137.90,34.50 L1135.96,37.09 L1136.35,40.30 L1133.37,41.57 L1132.10,44.55 L1128.89,44.16 L1126.30,46.10 L1123.71,44.16 L1120.50,44.55 L1119.23,41.57 L1116.25,40.30 L1116.64,37.09 L1114.70,34.50 L1116.64,31.91 L1116.25,28.70 L1119.23,27.43 L1120.50,24.45 L1123.71,24.84Z" fill="#86ABD8" stroke="#FFFFFF" stroke-width="1.3" filter="url(#sh)"/>
<path d="M1124.2,28.2 H1128.3999999999999 V32.4 H1132.6 V36.6 H1128.3999999999999 V40.8 H1124.2 V36.6 H1120.0 V32.4 H1124.2Z" fill="#8CB1DE" stroke="#FFFFFF" stroke-width="1.15" stroke-linejoin="miter"/>
<path d="M1160.00,17.10 L1162.59,19.04 L1165.80,18.65 L1167.07,21.63 L1170.05,22.90 L1169.66,26.11 L1171.60,28.70 L1169.66,31.29 L1170.05,34.50 L1167.07,35.77 L1165.80,38.75 L1162.59,38.36 L1160.00,40.30 L1157.41,38.36 L1154.20,38.75 L1152.93,35.77 L1149.95,34.50 L1150.34,31.29 L1148.40,28.70 L1150.34,26.11 L1149.95,22.90 L1152.93,21.63 L1154.20,18.65 L1157.41,19.04Z" fill="#86ABD8" stroke="#FFFFFF" stroke-width="1.3" filter="url(#sh)"/>
<path d="M1157.9,22.4 H1162.1 V26.599999999999998 H1166.3 V30.8 H1162.1 V35.0 H1157.9 V30.8 H1153.7 V26.599999999999998 H1157.9Z" fill="#8CB1DE" stroke="#FFFFFF" stroke-width="1.15" stroke-linejoin="miter"/>
<circle cx="1082.3" cy="57.7" r="20" fill="url(#gNi)"/>
<circle cx="1082.3" cy="57.7" r="20" fill="url(#gTop)"/>
<text x="1081.1" y="64.3" text-anchor="middle" font-size="18.8" font-weight="bold" fill="#5C4891">Ni</text>
<circle cx="1143" cy="57.7" r="20" fill="url(#gFe)"/>
<circle cx="1143" cy="57.7" r="20" fill="url(#gTop)"/>
<text x="1145.0" y="64.2" text-anchor="middle" font-size="18.8" font-weight="bold" fill="#5C4891">Fe</text>
<path d="M1062.7,81.0 Q1082.25,90.80000000000001 1101.8,81.0" fill="none" stroke="#B5A4CF" stroke-width="2.6"/>
<path d="M1067.7,80.1 L1059.7,78.5 L1062.7,87.0" fill="none" stroke="#B5A4CF" stroke-width="2.6" stroke-linejoin="miter"/>
<path d="M1096.8,80.1 L1104.8,78.5 L1101.8,87.0" fill="none" stroke="#B5A4CF" stroke-width="2.6" stroke-linejoin="miter"/>
<path d="M1125.7,81.9 Q1145.8000000000002,93.1 1165.9,81.9" fill="none" stroke="#B5A4CF" stroke-width="2.6"/>
<path d="M1130.7,81.0 L1122.7,79.4 L1125.7,87.9" fill="none" stroke="#B5A4CF" stroke-width="2.6" stroke-linejoin="miter"/>
<path d="M1160.9,81.0 L1168.9,79.4 L1165.9,87.9" fill="none" stroke="#B5A4CF" stroke-width="2.6" stroke-linejoin="miter"/>
<text x="1035.0" y="111.8" font-size="15.75" font-weight="bold" fill="#000" text-anchor="start">Charge redistribution</text>
<path d="M1100.85,117.00 L1122.15,117.00 L1122.15,133.30 L1132.65,133.30 L1111.50,150.30 L1090.35,133.30 L1100.85,133.30Z" fill="#B3A2CA" filter="url(#sh2)"/>
<path d="M1020.80,191.00 L1023.39,192.94 L1026.60,192.55 L1027.87,195.53 L1030.85,196.80 L1030.46,200.01 L1032.40,202.60 L1030.46,205.19 L1030.85,208.40 L1027.87,209.67 L1026.60,212.65 L1023.39,212.26 L1020.80,214.20 L1018.21,212.26 L1015.00,212.65 L1013.73,209.67 L1010.75,208.40 L1011.14,205.19 L1009.20,202.60 L1011.14,200.01 L1010.75,196.80 L1013.73,195.53 L1015.00,192.55 L1018.21,192.94Z" fill="#86ABD8" stroke="#FFFFFF" stroke-width="1.3" filter="url(#sh)"/>
<path d="M1018.6999999999999,196.29999999999998 H1022.9 V200.5 H1027.1 V204.7 H1022.9 V208.9 H1018.6999999999999 V204.7 H1014.5 V200.5 H1018.6999999999999Z" fill="#8CB1DE" stroke="#FFFFFF" stroke-width="1.15" stroke-linejoin="miter"/>
<path d="M1032.30,160.60 L1034.89,162.54 L1038.10,162.15 L1039.37,165.13 L1042.35,166.40 L1041.96,169.61 L1043.90,172.20 L1041.96,174.79 L1042.35,178.00 L1039.37,179.27 L1038.10,182.25 L1034.89,181.86 L1032.30,183.80 L1029.71,181.86 L1026.50,182.25 L1025.23,179.27 L1022.25,178.00 L1022.64,174.79 L1020.70,172.20 L1022.64,169.61 L1022.25,166.40 L1025.23,165.13 L1026.50,162.15 L1029.71,162.54Z" fill="#86ABD8" stroke="#FFFFFF" stroke-width="1.3" filter="url(#sh)"/>
<path d="M1030.2,165.89999999999998 H1034.3999999999999 V170.1 H1038.6 V174.29999999999998 H1034.3999999999999 V178.5 H1030.2 V174.29999999999998 H1026.0 V170.1 H1030.2Z" fill="#8CB1DE" stroke="#FFFFFF" stroke-width="1.15" stroke-linejoin="miter"/>
<path d="M1077.90,162.40 L1080.49,164.34 L1083.70,163.95 L1084.97,166.93 L1087.95,168.20 L1087.56,171.41 L1089.50,174.00 L1087.56,176.59 L1087.95,179.80 L1084.97,181.07 L1083.70,184.05 L1080.49,183.66 L1077.90,185.60 L1075.31,183.66 L1072.10,184.05 L1070.83,181.07 L1067.85,179.80 L1068.24,176.59 L1066.30,174.00 L1068.24,171.41 L1067.85,168.20 L1070.83,166.93 L1072.10,163.95 L1075.31,164.34Z" fill="#86ABD8" stroke="#FFFFFF" stroke-width="1.3" filter="url(#sh)"/>
<path d="M1075.8000000000002,167.7 H1080.0 V171.9 H1084.2 V176.1 H1080.0 V180.3 H1075.8000000000002 V176.1 H1071.6000000000001 V171.9 H1075.8000000000002Z" fill="#8CB1DE" stroke="#FFFFFF" stroke-width="1.15" stroke-linejoin="miter"/>
<path d="M1111.50,157.00 L1114.09,158.94 L1117.30,158.55 L1118.57,161.53 L1121.55,162.80 L1121.16,166.01 L1123.10,168.60 L1121.16,171.19 L1121.55,174.40 L1118.57,175.67 L1117.30,178.65 L1114.09,178.26 L1111.50,180.20 L1108.91,178.26 L1105.70,178.65 L1104.43,175.67 L1101.45,174.40 L1101.84,171.19 L1099.90,168.60 L1101.84,166.01 L1101.45,162.80 L1104.43,161.53 L1105.70,158.55 L1108.91,158.94Z" fill="#86ABD8" stroke="#FFFFFF" stroke-width="1.3" filter="url(#sh)"/>
<path d="M1109.4,162.29999999999998 H1113.6 V166.5 H1117.8 V170.7 H1113.6 V174.9 H1109.4 V170.7 H1105.2 V166.5 H1109.4Z" fill="#8CB1DE" stroke="#FFFFFF" stroke-width="1.15" stroke-linejoin="miter"/>
<circle cx="1048.7" cy="198.5" r="20" fill="url(#gNi)"/>
<circle cx="1048.7" cy="198.5" r="20" fill="url(#gTop)"/>
<text x="1047.5" y="205.1" text-anchor="middle" font-size="18.8" font-weight="bold" fill="#5C4891">Ni</text>
<circle cx="1095" cy="197.5" r="20" fill="url(#gFe)"/>
<circle cx="1095" cy="197.5" r="20" fill="url(#gTop)"/>
<text x="1097.0" y="204.0" text-anchor="middle" font-size="18.8" font-weight="bold" fill="#5C4891">Fe</text>
<path d="M1126,196 L1136,191 L1136,194.4 L1158.2,194.4 L1158.2,191 L1168.2,196 L1158.2,201 L1158.2,197.6 L1136,197.6 L1136,201Z" fill="#B5A4CF"/>
<g filter="url(#sh)">
<circle cx="1187.1" cy="172.8" r="10" fill="#9BBDE6"/>
<circle cx="1184.1" cy="158.7" r="5.7" fill="#E89391"/>
<circle cx="1201.3" cy="170.6" r="5.6" fill="#E89391"/>
<circle cx="1193.7" cy="216" r="10" fill="#9BBDE6"/>
<circle cx="1190.6" cy="202.3" r="5.7" fill="#E89391"/>
<circle cx="1207.9" cy="213.4" r="5.6" fill="#E89391"/>
</g>
<text x="1046.8" y="256.2" font-size="15.6" font-weight="bold" fill="#000" text-anchor="start">Absorption/activity</text>
<text x="1027.5" y="324.6" font-size="15.6" font-weight="bold" fill="#000" text-anchor="start">Structure transformation</text>
<text x="1009.8" y="412.6" font-size="15.6" font-weight="bold" fill="#000" text-anchor="start">Amorphous</text>
<text x="1138.3000000000002" y="412.6" font-size="15.6" font-weight="bold" fill="#000" text-anchor="start">Crystalline</text>
<text x="1057.9" y="496.8" font-size="15.6" font-weight="bold" fill="#000" text-anchor="start">Catalytic stability</text>
<path d="M1110.90,431.10 L1128.30,431.10 L1128.30,458.20 L1136.25,458.20 L1119.60,475.30 L1102.95,458.20 L1110.90,458.20Z" fill="#F9C08F" filter="url(#sh)"/>
<path d="M1098.5,364.2 L1107.9,358.9 L1107.9,362.3 L1130.3,361.7 L1130.3,358 L1139.7,362.7 L1130.3,367.9 L1130.3,364.7 L1107.9,365.3 L1107.9,368.9Z" fill="#4B87D1"/>
<circle cx="1168.55" cy="333.05" r="2.1" fill="url(#ap)"/>
<circle cx="1172.90" cy="333.05" r="2.35" fill="url(#ab)"/>
<circle cx="1177.25" cy="333.05" r="2.1" fill="url(#ap)"/>
<circle cx="1181.60" cy="333.05" r="2.35" fill="url(#ab)"/>
<circle cx="1185.95" cy="333.05" r="2.1" fill="url(#ap)"/>
<circle cx="1190.30" cy="333.05" r="2.35" fill="url(#ab)"/>
<circle cx="1194.65" cy="333.05" r="2.1" fill="url(#ap)"/>
<circle cx="1199.00" cy="333.05" r="2.35" fill="url(#ab)"/>
<circle cx="1203.35" cy="333.05" r="2.1" fill="url(#ap)"/>
<circle cx="1207.70" cy="333.05" r="2.35" fill="url(#ab)"/>
<circle cx="1207.70" cy="337.25" r="2.1" fill="url(#ap)"/>
<circle cx="1207.70" cy="341.45" r="2.35" fill="url(#ab)"/>
<circle cx="1207.70" cy="345.65" r="2.1" fill="url(#ap)"/>
<circle cx="1207.70" cy="349.85" r="2.35" fill="url(#ab)"/>
<circle cx="1207.70" cy="354.05" r="2.1" fill="url(#ap)"/>
<circle cx="1207.70" cy="358.25" r="2.35" fill="url(#ab)"/>
<circle cx="1207.70" cy="362.45" r="2.1" fill="url(#ap)"/>
<circle cx="1207.70" cy="366.65" r="2.35" fill="url(#ab)"/>
<circle cx="1207.70" cy="370.85" r="2.1" fill="url(#ap)"/>
<circle cx="1207.70" cy="375.05" r="2.35" fill="url(#ab)"/>
<circle cx="1166.00" cy="334.80" r="2.35" fill="url(#ab)"/>
<circle cx="1170.35" cy="334.80" r="2.1" fill="url(#ap)"/>
<circle cx="1174.70" cy="334.80" r="2.35" fill="url(#ab)"/>
<circle cx="1179.05" cy="334.80" r="2.1" fill="url(#ap)"/>
<circle cx="1183.40" cy="334.80" r="2.35" fill="url(#ab)"/>
<circle cx="1187.75" cy="334.80" r="2.1" fill="url(#ap)"/>
<circle cx="1192.10" cy="334.80" r="2.35" fill="url(#ab)"/>
<circle cx="1196.45" cy="334.80" r="2.1" fill="url(#ap)"/>
<circle cx="1200.80" cy="334.80" r="2.35" fill="url(#ab)"/>
<circle cx="1205.15" cy="334.80" r="2.1" fill="url(#ap)"/>
<circle cx="1205.15" cy="339.00" r="2.35" fill="url(#ab)"/>
<circle cx="1205.15" cy="343.20" r="2.1" fill="url(#ap)"/>
<circle cx="1205.15" cy="347.40" r="2.35" fill="url(#ab)"/>
<circle cx="1205.15" cy="351.60" r="2.1" fill="url(#ap)"/>
<circle cx="1205.15" cy="355.80" r="2.35" fill="url(#ab)"/>
<circle cx="1205.15" cy="360.00" r="2.1" fill="url(#ap)"/>
<circle cx="1205.15" cy="364.20" r="2.35" fill="url(#ab)"/>
<circle cx="1205.15" cy="368.40" r="2.1" fill="url(#ap)"/>
<circle cx="1205.15" cy="372.60" r="2.35" fill="url(#ab)"/>
<circle cx="1205.15" cy="376.80" r="2.1" fill="url(#ap)"/>
<circle cx="1163.45" cy="336.55" r="2.1" fill="url(#ap)"/>
<circle cx="1167.80" cy="336.55" r="2.35" fill="url(#ab)"/>
<circle cx="1172.15" cy="336.55" r="2.1" fill="url(#ap)"/>
<circle cx="1176.50" cy="336.55" r="2.35" fill="url(#ab)"/>
<circle cx="1180.85" cy="336.55" r="2.1" fill="url(#ap)"/>
<circle cx="1185.20" cy="336.55" r="2.35" fill="url(#ab)"/>
<circle cx="1189.55" cy="336.55" r="2.1" fill="url(#ap)"/>
<circle cx="1193.90" cy="336.55" r="2.35" fill="url(#ab)"/>
<circle cx="1198.25" cy="336.55" r="2.1" fill="url(#ap)"/>
<circle cx="1202.60" cy="336.55" r="2.35" fill="url(#ab)"/>
<circle cx="1202.60" cy="340.75" r="2.1" fill="url(#ap)"/>
<circle cx="1202.60" cy="344.95" r="2.35" fill="url(#ab)"/>
<circle cx="1202.60" cy="349.15" r="2.1" fill="url(#ap)"/>
<circle cx="1202.60" cy="353.35" r="2.35" fill="url(#ab)"/>
<circle cx="1202.60" cy="357.55" r="2.1" fill="url(#ap)"/>
<circle cx="1202.60" cy="361.75" r="2.35" fill="url(#ab)"/>
<circle cx="1202.60" cy="365.95" r="2.1" fill="url(#ap)"/>
<circle cx="1202.60" cy="370.15" r="2.35" fill="url(#ab)"/>
<circle cx="1202.60" cy="374.35" r="2.1" fill="url(#ap)"/>
<circle cx="1202.60" cy="378.55" r="2.35" fill="url(#ab)"/>
<circle cx="1160.90" cy="338.30" r="2.35" fill="url(#ab)"/>
<circle cx="1165.25" cy="338.30" r="2.1" fill="url(#ap)"/>
<circle cx="1169.60" cy="338.30" r="2.35" fill="url(#ab)"/>
<circle cx="1173.95" cy="338.30" r="2.1" fill="url(#ap)"/>
<circle cx="1178.30" cy="338.30" r="2.35" fill="url(#ab)"/>
<circle cx="1182.65" cy="338.30" r="2.1" fill="url(#ap)"/>
<circle cx="1187.00" cy="338.30" r="2.35" fill="url(#ab)"/>
<circle cx="1191.35" cy="338.30" r="2.1" fill="url(#ap)"/>
<circle cx="1195.70" cy="338.30" r="2.35" fill="url(#ab)"/>
<circle cx="1200.05" cy="338.30" r="2.1" fill="url(#ap)"/>
<circle cx="1200.05" cy="342.50" r="2.35" fill="url(#ab)"/>
<circle cx="1200.05" cy="346.70" r="2.1" fill="url(#ap)"/>
<circle cx="1200.05" cy="350.90" r="2.35" fill="url(#ab)"/>
<circle cx="1200.05" cy="355.10" r="2.1" fill="url(#ap)"/>
<circle cx="1200.05" cy="359.30" r="2.35" fill="url(#ab)"/>
<circle cx="1200.05" cy="363.50" r="2.1" fill="url(#ap)"/>
<circle cx="1200.05" cy="367.70" r="2.35" fill="url(#ab)"/>
<circle cx="1200.05" cy="371.90" r="2.1" fill="url(#ap)"/>
<circle cx="1200.05" cy="376.10" r="2.35" fill="url(#ab)"/>
<circle cx="1200.05" cy="380.30" r="2.1" fill="url(#ap)"/>
<circle cx="1158.35" cy="340.05" r="2.1" fill="url(#ap)"/>
<circle cx="1162.70" cy="340.05" r="2.35" fill="url(#ab)"/>
<circle cx="1167.05" cy="340.05" r="2.1" fill="url(#ap)"/>
<circle cx="1171.40" cy="340.05" r="2.35" fill="url(#ab)"/>
<circle cx="1175.75" cy="340.05" r="2.1" fill="url(#ap)"/>
<circle cx="1180.10" cy="340.05" r="2.35" fill="url(#ab)"/>
<circle cx="1184.45" cy="340.05" r="2.1" fill="url(#ap)"/>
<circle cx="1188.80" cy="340.05" r="2.35" fill="url(#ab)"/>
<circle cx="1193.15" cy="340.05" r="2.1" fill="url(#ap)"/>
<circle cx="1197.50" cy="340.05" r="2.35" fill="url(#ab)"/>
<circle cx="1197.50" cy="344.25" r="2.1" fill="url(#ap)"/>
<circle cx="1197.50" cy="348.45" r="2.35" fill="url(#ab)"/>
<circle cx="1197.50" cy="352.65" r="2.1" fill="url(#ap)"/>
<circle cx="1197.50" cy="356.85" r="2.35" fill="url(#ab)"/>
<circle cx="1197.50" cy="361.05" r="2.1" fill="url(#ap)"/>
<circle cx="1197.50" cy="365.25" r="2.35" fill="url(#ab)"/>
<circle cx="1197.50" cy="369.45" r="2.1" fill="url(#ap)"/>
<circle cx="1197.50" cy="373.65" r="2.35" fill="url(#ab)"/>
<circle cx="1197.50" cy="377.85" r="2.1" fill="url(#ap)"/>
<circle cx="1197.50" cy="382.05" r="2.35" fill="url(#ab)"/>
<circle cx="1155.80" cy="341.80" r="2.35" fill="url(#ab)"/>
<circle cx="1160.15" cy="341.80" r="2.1" fill="url(#ap)"/>
<circle cx="1164.50" cy="341.80" r="2.35" fill="url(#ab)"/>
<circle cx="1168.85" cy="341.80" r="2.1" fill="url(#ap)"/>
<circle cx="1173.20" cy="341.80" r="2.35" fill="url(#ab)"/>
<circle cx="1177.55" cy="341.80" r="2.1" fill="url(#ap)"/>
<circle cx="1181.90" cy="341.80" r="2.35" fill="url(#ab)"/>
<circle cx="1186.25" cy="341.80" r="2.1" fill="url(#ap)"/>
<circle cx="1190.60" cy="341.80" r="2.35" fill="url(#ab)"/>
<circle cx="1194.95" cy="341.80" r="2.1" fill="url(#ap)"/>
<circle cx="1155.80" cy="346.00" r="2.1" fill="url(#ap)"/>
<circle cx="1160.15" cy="346.00" r="2.35" fill="url(#ab)"/>
<circle cx="1164.50" cy="346.00" r="2.1" fill="url(#ap)"/>
<circle cx="1168.85" cy="346.00" r="2.35" fill="url(#ab)"/>
<circle cx="1173.20" cy="346.00" r="2.1" fill="url(#ap)"/>
<circle cx="1177.55" cy="346.00" r="2.35" fill="url(#ab)"/>
<circle cx="1181.90" cy="346.00" r="2.1" fill="url(#ap)"/>
<circle cx="1186.25" cy="346.00" r="2.35" fill="url(#ab)"/>
<circle cx="1190.60" cy="346.00" r="2.1" fill="url(#ap)"/>
<circle cx="1194.95" cy="346.00" r="2.35" fill="url(#ab)"/>
<circle cx="1155.80" cy="350.20" r="2.35" fill="url(#ab)"/>
<circle cx="1160.15" cy="350.20" r="2.1" fill="url(#ap)"/>
<circle cx="1164.50" cy="350.20" r="2.35" fill="url(#ab)"/>
<circle cx="1168.85" cy="350.20" r="2.1" fill="url(#ap)"/>
<circle cx="1173.20" cy="350.20" r="2.35" fill="url(#ab)"/>
<circle cx="1177.55" cy="350.20" r="2.1" fill="url(#ap)"/>
<circle cx="1181.90" cy="350.20" r="2.35" fill="url(#ab)"/>
<circle cx="1186.25" cy="350.20" r="2.1" fill="url(#ap)"/>
<circle cx="1190.60" cy="350.20" r="2.35" fill="url(#ab)"/>
<circle cx="1194.95" cy="350.20" r="2.1" fill="url(#ap)"/>
<circle cx="1155.80" cy="354.40" r="2.1" fill="url(#ap)"/>
<circle cx="1160.15" cy="354.40" r="2.35" fill="url(#ab)"/>
<circle cx="1164.50" cy="354.40" r="2.1" fill="url(#ap)"/>
<circle cx="1168.85" cy="354.40" r="2.35" fill="url(#ab)"/>
<circle cx="1173.20" cy="354.40" r="2.1" fill="url(#ap)"/>
<circle cx="1177.55" cy="354.40" r="2.35" fill="url(#ab)"/>
<circle cx="1181.90" cy="354.40" r="2.1" fill="url(#ap)"/>
<circle cx="1186.25" cy="354.40" r="2.35" fill="url(#ab)"/>
<circle cx="1190.60" cy="354.40" r="2.1" fill="url(#ap)"/>
<circle cx="1194.95" cy="354.40" r="2.35" fill="url(#ab)"/>
<circle cx="1155.80" cy="358.60" r="2.35" fill="url(#ab)"/>
<circle cx="1160.15" cy="358.60" r="2.1" fill="url(#ap)"/>
<circle cx="1164.50" cy="358.60" r="2.35" fill="url(#ab)"/>
<circle cx="1168.85" cy="358.60" r="2.1" fill="url(#ap)"/>
<circle cx="1173.20" cy="358.60" r="2.35" fill="url(#ab)"/>
<circle cx="1177.55" cy="358.60" r="2.1" fill="url(#ap)"/>
<circle cx="1181.90" cy="358.60" r="2.35" fill="url(#ab)"/>
<circle cx="1186.25" cy="358.60" r="2.1" fill="url(#ap)"/>
<circle cx="1190.60" cy="358.60" r="2.35" fill="url(#ab)"/>
<circle cx="1194.95" cy="358.60" r="2.1" fill="url(#ap)"/>
<circle cx="1155.80" cy="362.80" r="2.1" fill="url(#ap)"/>
<circle cx="1160.15" cy="362.80" r="2.35" fill="url(#ab)"/>
<circle cx="1164.50" cy="362.80" r="2.1" fill="url(#ap)"/>
<circle cx="1168.85" cy="362.80" r="2.35" fill="url(#ab)"/>
<circle cx="1173.20" cy="362.80" r="2.1" fill="url(#ap)"/>
<circle cx="1177.55" cy="362.80" r="2.35" fill="url(#ab)"/>
<circle cx="1181.90" cy="362.80" r="2.1" fill="url(#ap)"/>
<circle cx="1186.25" cy="362.80" r="2.35" fill="url(#ab)"/>
<circle cx="1190.60" cy="362.80" r="2.1" fill="url(#ap)"/>
<circle cx="1194.95" cy="362.80" r="2.35" fill="url(#ab)"/>
<circle cx="1155.80" cy="367.00" r="2.35" fill="url(#ab)"/>
<circle cx="1160.15" cy="367.00" r="2.1" fill="url(#ap)"/>
<circle cx="1164.50" cy="367.00" r="2.35" fill="url(#ab)"/>
<circle cx="1168.85" cy="367.00" r="2.1" fill="url(#ap)"/>
<circle cx="1173.20" cy="367.00" r="2.35" fill="url(#ab)"/>
<circle cx="1177.55" cy="367.00" r="2.1" fill="url(#ap)"/>
<circle cx="1181.90" cy="367.00" r="2.35" fill="url(#ab)"/>
<circle cx="1186.25" cy="367.00" r="2.1" fill="url(#ap)"/>
<circle cx="1190.60" cy="367.00" r="2.35" fill="url(#ab)"/>
<circle cx="1194.95" cy="367.00" r="2.1" fill="url(#ap)"/>
<circle cx="1155.80" cy="371.20" r="2.1" fill="url(#ap)"/>
<circle cx="1160.15" cy="371.20" r="2.35" fill="url(#ab)"/>
<circle cx="1164.50" cy="371.20" r="2.1" fill="url(#ap)"/>
<circle cx="1168.85" cy="371.20" r="2.35" fill="url(#ab)"/>
<circle cx="1173.20" cy="371.20" r="2.1" fill="url(#ap)"/>
<circle cx="1177.55" cy="371.20" r="2.35" fill="url(#ab)"/>
<circle cx="1181.90" cy="371.20" r="2.1" fill="url(#ap)"/>
<circle cx="1186.25" cy="371.20" r="2.35" fill="url(#ab)"/>
<circle cx="1190.60" cy="371.20" r="2.1" fill="url(#ap)"/>
<circle cx="1194.95" cy="371.20" r="2.35" fill="url(#ab)"/>
<circle cx="1155.80" cy="375.40" r="2.35" fill="url(#ab)"/>
<circle cx="1160.15" cy="375.40" r="2.1" fill="url(#ap)"/>
<circle cx="1164.50" cy="375.40" r="2.35" fill="url(#ab)"/>
<circle cx="1168.85" cy="375.40" r="2.1" fill="url(#ap)"/>
<circle cx="1173.20" cy="375.40" r="2.35" fill="url(#ab)"/>
<circle cx="1177.55" cy="375.40" r="2.1" fill="url(#ap)"/>
<circle cx="1181.90" cy="375.40" r="2.35" fill="url(#ab)"/>
<circle cx="1186.25" cy="375.40" r="2.1" fill="url(#ap)"/>
<circle cx="1190.60" cy="375.40" r="2.35" fill="url(#ab)"/>
<circle cx="1194.95" cy="375.40" r="2.1" fill="url(#ap)"/>
<circle cx="1155.80" cy="379.60" r="2.1" fill="url(#ap)"/>
<circle cx="1160.15" cy="379.60" r="2.35" fill="url(#ab)"/>
<circle cx="1164.50" cy="379.60" r="2.1" fill="url(#ap)"/>
<circle cx="1168.85" cy="379.60" r="2.35" fill="url(#ab)"/>
<circle cx="1173.20" cy="379.60" r="2.1" fill="url(#ap)"/>
<circle cx="1177.55" cy="379.60" r="2.35" fill="url(#ab)"/>
<circle cx="1181.90" cy="379.60" r="2.1" fill="url(#ap)"/>
<circle cx="1186.25" cy="379.60" r="2.35" fill="url(#ab)"/>
<circle cx="1190.60" cy="379.60" r="2.1" fill="url(#ap)"/>
<circle cx="1194.95" cy="379.60" r="2.35" fill="url(#ab)"/>
<circle cx="1155.80" cy="383.80" r="2.35" fill="url(#ab)"/>
<circle cx="1160.15" cy="383.80" r="2.1" fill="url(#ap)"/>
<circle cx="1164.50" cy="383.80" r="2.35" fill="url(#ab)"/>
<circle cx="1168.85" cy="383.80" r="2.1" fill="url(#ap)"/>
<circle cx="1173.20" cy="383.80" r="2.35" fill="url(#ab)"/>
<circle cx="1177.55" cy="383.80" r="2.1" fill="url(#ap)"/>
<circle cx="1181.90" cy="383.80" r="2.35" fill="url(#ab)"/>
<circle cx="1186.25" cy="383.80" r="2.1" fill="url(#ap)"/>
<circle cx="1190.60" cy="383.80" r="2.35" fill="url(#ab)"/>
<circle cx="1194.95" cy="383.80" r="2.1" fill="url(#ap)"/>
<circle cx="1077.28" cy="359.84" r="2.45" fill="url(#ap)"/>
<circle cx="1078.48" cy="358.74" r="2.45" fill="url(#ab)"/>
<circle cx="1060.73" cy="366.14" r="2.45" fill="url(#ab)"/>
<circle cx="1044.86" cy="382.22" r="2.45" fill="url(#ap)"/>
<circle cx="1037.40" cy="372.31" r="2.45" fill="url(#ab)"/>
<circle cx="1060.68" cy="344.79" r="2.45" fill="url(#ap)"/>
<circle cx="1039.73" cy="349.67" r="2.45" fill="url(#ab)"/>
<circle cx="1063.79" cy="335.66" r="2.45" fill="url(#ab)"/>
<circle cx="1058.98" cy="373.54" r="2.45" fill="url(#ab)"/>
<circle cx="1038.36" cy="358.66" r="2.45" fill="url(#ab)"/>
<circle cx="1065.87" cy="358.41" r="2.45" fill="url(#ap)"/>
<circle cx="1047.95" cy="378.17" r="2.45" fill="url(#ab)"/>
<circle cx="1051.01" cy="348.55" r="2.45" fill="url(#ap)"/>
<circle cx="1057.15" cy="336.06" r="2.45" fill="url(#ab)"/>
<circle cx="1055.04" cy="356.92" r="2.45" fill="url(#ab)"/>
<circle cx="1050.90" cy="341.53" r="2.45" fill="url(#ab)"/>
<circle cx="1041.04" cy="378.98" r="2.45" fill="url(#ap)"/>
<circle cx="1052.74" cy="356.04" r="2.45" fill="url(#ap)"/>
<circle cx="1034.84" cy="346.55" r="2.45" fill="url(#ap)"/>
<circle cx="1066.43" cy="379.79" r="2.45" fill="url(#ab)"/>
<circle cx="1070.08" cy="337.41" r="2.45" fill="url(#ap)"/>
<circle cx="1069.07" cy="376.51" r="2.45" fill="url(#ap)"/>
<circle cx="1081.13" cy="351.68" r="2.45" fill="url(#ap)"/>
<circle cx="1071.18" cy="368.23" r="2.45" fill="url(#ap)"/>
<circle cx="1034.47" cy="356.92" r="2.45" fill="url(#ap)"/>
<circle cx="1047.98" cy="360.62" r="2.45" fill="url(#ab)"/>
<circle cx="1071.14" cy="350.42" r="2.45" fill="url(#ap)"/>
<circle cx="1035.51" cy="360.66" r="2.45" fill="url(#ab)"/>
<circle cx="1048.69" cy="337.88" r="2.45" fill="url(#ap)"/>
<circle cx="1086.95" cy="340.55" r="2.45" fill="url(#ap)"/>
<circle cx="1087.27" cy="358.02" r="2.45" fill="url(#ab)"/>
<circle cx="1044.89" cy="368.93" r="2.45" fill="url(#ab)"/>
<circle cx="1075.69" cy="360.05" r="2.45" fill="url(#ab)"/>
<circle cx="1054.50" cy="361.74" r="2.45" fill="url(#ab)"/>
<circle cx="1036.58" cy="371.15" r="2.45" fill="url(#ab)"/>
<circle cx="1080.28" cy="340.63" r="2.45" fill="url(#ap)"/>
<circle cx="1082.66" cy="362.59" r="2.45" fill="url(#ap)"/>
<circle cx="1036.05" cy="370.12" r="2.45" fill="url(#ab)"/>
<circle cx="1080.49" cy="367.37" r="2.45" fill="url(#ap)"/>
<circle cx="1050.29" cy="338.13" r="2.45" fill="url(#ab)"/>
<circle cx="1067.75" cy="330.41" r="2.45" fill="url(#ap)"/>
<circle cx="1064.86" cy="364.20" r="2.45" fill="url(#ab)"/>
<circle cx="1071.37" cy="348.56" r="2.45" fill="url(#ab)"/>
<circle cx="1086.78" cy="348.66" r="2.45" fill="url(#ap)"/>
<circle cx="1055.89" cy="362.21" r="2.45" fill="url(#ab)"/>
<circle cx="1053.45" cy="385.64" r="2.45" fill="url(#ab)"/>
<circle cx="1046.11" cy="368.79" r="2.45" fill="url(#ab)"/>
<circle cx="1043.76" cy="335.82" r="2.45" fill="url(#ab)"/>
<circle cx="1070.12" cy="387.29" r="2.45" fill="url(#ab)"/>
<circle cx="1050.59" cy="350.33" r="2.45" fill="url(#ap)"/>
<circle cx="1055.79" cy="366.22" r="2.45" fill="url(#ab)"/>
<circle cx="1056.11" cy="363.78" r="2.45" fill="url(#ab)"/>
<circle cx="1075.42" cy="372.02" r="2.45" fill="url(#ab)"/>
<circle cx="1062.92" cy="358.92" r="2.45" fill="url(#ab)"/>
<circle cx="1077.40" cy="344.40" r="2.45" fill="url(#ap)"/>
<circle cx="1068.52" cy="333.62" r="2.45" fill="url(#ab)"/>
<circle cx="1075.28" cy="363.77" r="2.45" fill="url(#ap)"/>
<circle cx="1032.23" cy="372.89" r="2.45" fill="url(#ab)"/>
<circle cx="1078.38" cy="353.36" r="2.45" fill="url(#ap)"/>
<circle cx="1059.31" cy="330.37" r="2.45" fill="url(#ap)"/>
<circle cx="1035.28" cy="350.85" r="2.45" fill="url(#ap)"/>
<circle cx="1057.75" cy="368.11" r="2.45" fill="url(#ap)"/>
<circle cx="1047.95" cy="349.98" r="2.45" fill="url(#ab)"/>
<circle cx="1077.53" cy="347.48" r="2.45" fill="url(#ab)"/>
<circle cx="1035.44" cy="369.57" r="2.45" fill="url(#ap)"/>
<circle cx="1077.64" cy="383.52" r="2.45" fill="url(#ab)"/>
<circle cx="1039.84" cy="366.73" r="2.45" fill="url(#ap)"/>
<circle cx="1046.45" cy="382.79" r="2.45" fill="url(#ap)"/>
<circle cx="1089.53" cy="341.62" r="2.45" fill="url(#ab)"/>
<circle cx="1055.29" cy="361.35" r="2.45" fill="url(#ab)"/>
<circle cx="1029.00" cy="350.12" r="2.45" fill="url(#ap)"/>
<circle cx="1048.29" cy="370.71" r="2.45" fill="url(#ap)"/>
<circle cx="1089.23" cy="369.81" r="2.45" fill="url(#ab)"/>
<circle cx="1057.38" cy="331.83" r="2.45" fill="url(#ap)"/>
<circle cx="1076.75" cy="354.87" r="2.45" fill="url(#ab)"/>
<circle cx="1081.67" cy="339.21" r="2.45" fill="url(#ap)"/>
<circle cx="1065.40" cy="382.16" r="2.45" fill="url(#ap)"/>
<circle cx="1041.24" cy="385.04" r="2.45" fill="url(#ap)"/>
<circle cx="1055.42" cy="365.47" r="2.45" fill="url(#ab)"/>
<circle cx="1046.08" cy="352.38" r="2.45" fill="url(#ap)"/>
<circle cx="1066.67" cy="360.75" r="2.45" fill="url(#ap)"/>
<circle cx="1055.64" cy="355.91" r="2.45" fill="url(#ap)"/>
<circle cx="1056.77" cy="347.08" r="2.45" fill="url(#ap)"/>
<circle cx="1058.92" cy="372.63" r="2.45" fill="url(#ap)"/>
<circle cx="1045.84" cy="377.18" r="2.45" fill="url(#ab)"/>
<circle cx="1054.73" cy="332.90" r="2.45" fill="url(#ab)"/>
<circle cx="1042.63" cy="335.73" r="2.45" fill="url(#ab)"/>
<circle cx="1059.40" cy="339.31" r="2.45" fill="url(#ab)"/>
<circle cx="1065.61" cy="363.11" r="2.45" fill="url(#ap)"/>
<circle cx="1052.44" cy="346.33" r="2.45" fill="url(#ap)"/>
<circle cx="1074.08" cy="379.76" r="2.45" fill="url(#ap)"/>
<circle cx="1064.09" cy="337.31" r="2.45" fill="url(#ab)"/>
<circle cx="1077.91" cy="380.03" r="2.45" fill="url(#ab)"/>
<circle cx="1026.80" cy="339.21" r="2.45" fill="url(#ap)"/>
<circle cx="1076.56" cy="340.56" r="2.45" fill="url(#ab)"/>
<circle cx="1049.30" cy="368.96" r="2.45" fill="url(#ab)"/>
<circle cx="1026.72" cy="361.32" r="2.45" fill="url(#ap)"/>
<circle cx="1065.72" cy="363.61" r="2.45" fill="url(#ap)"/>
<circle cx="1062.54" cy="374.91" r="2.45" fill="url(#ab)"/>
<circle cx="1067.98" cy="380.60" r="2.45" fill="url(#ap)"/>
<circle cx="1049.99" cy="365.19" r="2.45" fill="url(#ab)"/>
<circle cx="1072.27" cy="353.83" r="2.45" fill="url(#ap)"/>
<circle cx="1058.42" cy="353.92" r="2.45" fill="url(#ap)"/>
<circle cx="1076.87" cy="334.08" r="2.45" fill="url(#ab)"/>
<circle cx="1027.13" cy="343.27" r="2.45" fill="url(#ab)"/>
<circle cx="1061.70" cy="382.21" r="2.45" fill="url(#ap)"/>
<circle cx="1061.63" cy="347.74" r="2.45" fill="url(#ap)"/>
<circle cx="1073.44" cy="353.59" r="2.45" fill="url(#ap)"/>
<circle cx="1050.17" cy="338.39" r="2.45" fill="url(#ap)"/>
<circle cx="1049.55" cy="360.46" r="2.45" fill="url(#ap)"/>
<circle cx="1029.79" cy="362.67" r="2.45" fill="url(#ab)"/>
<circle cx="1068.88" cy="380.90" r="2.45" fill="url(#ap)"/>
<circle cx="1076.47" cy="336.21" r="2.45" fill="url(#ab)"/>
<circle cx="1041.67" cy="358.71" r="2.45" fill="url(#ab)"/>
<circle cx="1048.35" cy="369.29" r="2.45" fill="url(#ap)"/>
<circle cx="1085.60" cy="340.74" r="2.45" fill="url(#ab)"/>
<circle cx="1067.18" cy="384.76" r="2.45" fill="url(#ab)"/>
<circle cx="1059.22" cy="339.46" r="2.45" fill="url(#ab)"/>
<circle cx="1029.21" cy="381.78" r="2.45" fill="url(#ap)"/>
<circle cx="1064.02" cy="339.94" r="2.45" fill="url(#ap)"/>
<circle cx="1043.70" cy="334.75" r="2.45" fill="url(#ab)"/>
<circle cx="1050.16" cy="367.06" r="2.45" fill="url(#ap)"/>
<circle cx="1040.95" cy="343.62" r="2.45" fill="url(#ap)"/>
<circle cx="1069.26" cy="375.88" r="2.45" fill="url(#ab)"/>
<circle cx="1030.21" cy="365.92" r="2.45" fill="url(#ab)"/>
<circle cx="1060.86" cy="341.09" r="2.45" fill="url(#ap)"/>
<circle cx="1046.35" cy="387.56" r="2.45" fill="url(#ab)"/>
<circle cx="1043.10" cy="340.86" r="2.45" fill="url(#ab)"/>
<circle cx="1028.05" cy="339.95" r="2.45" fill="url(#ab)"/>
<circle cx="1080.82" cy="349.65" r="2.45" fill="url(#ab)"/>
<circle cx="1074.55" cy="356.73" r="2.45" fill="url(#ab)"/>
<circle cx="1065.20" cy="339.28" r="2.45" fill="url(#ap)"/>
<circle cx="1041.50" cy="384.57" r="2.45" fill="url(#ap)"/>
<circle cx="1084.04" cy="353.68" r="2.45" fill="url(#ap)"/>
<circle cx="1034.21" cy="354.11" r="2.45" fill="url(#ab)"/>
<circle cx="1054.68" cy="389.44" r="2.45" fill="url(#ab)"/>
<circle cx="1071.58" cy="383.98" r="2.45" fill="url(#ap)"/>
<circle cx="1061.67" cy="331.20" r="2.45" fill="url(#ab)"/>
<circle cx="1035.40" cy="341.08" r="2.45" fill="url(#ab)"/>
<circle cx="1087.81" cy="371.68" r="2.45" fill="url(#ab)"/>
<circle cx="1063.50" cy="362.98" r="2.45" fill="url(#ap)"/>
<circle cx="1070.80" cy="384.02" r="2.45" fill="url(#ap)"/>
<circle cx="1041.04" cy="378.79" r="2.45" fill="url(#ap)"/>
<circle cx="1065.15" cy="359.38" r="2.45" fill="url(#ab)"/>
<circle cx="1087.62" cy="382.85" r="2.45" fill="url(#ab)"/>
<circle cx="1043.35" cy="381.56" r="2.45" fill="url(#ab)"/>
<circle cx="1044.01" cy="350.41" r="2.45" fill="url(#ap)"/>
<circle cx="1034.02" cy="352.08" r="2.45" fill="url(#ab)"/>
<circle cx="1052.92" cy="380.16" r="2.45" fill="url(#ab)"/>
<circle cx="1057.94" cy="386.29" r="2.45" fill="url(#ab)"/>
<circle cx="1030.46" cy="386.02" r="2.45" fill="url(#ab)"/>
<circle cx="1076.47" cy="368.90" r="2.45" fill="url(#ab)"/>
<circle cx="1049.64" cy="385.55" r="2.45" fill="url(#ab)"/>
<circle cx="1068.00" cy="378.14" r="2.45" fill="url(#ap)"/>
<circle cx="1077.57" cy="381.17" r="2.45" fill="url(#ap)"/>
<circle cx="1059.05" cy="339.16" r="2.45" fill="url(#ab)"/>
<circle cx="1038.61" cy="355.23" r="2.45" fill="url(#ab)"/>
<circle cx="1029.08" cy="337.19" r="2.45" fill="url(#ab)"/>
<circle cx="1085.40" cy="345.22" r="2.45" fill="url(#ab)"/>
<circle cx="1043.64" cy="350.98" r="2.45" fill="url(#ap)"/>
<circle cx="1087.71" cy="369.08" r="2.45" fill="url(#ap)"/>
<circle cx="1076.92" cy="369.54" r="2.45" fill="url(#ap)"/>
<circle cx="1025.67" cy="354.84" r="2.45" fill="url(#ap)"/>
<circle cx="1054.98" cy="344.80" r="2.45" fill="url(#ab)"/>
<circle cx="1086.45" cy="350.58" r="2.45" fill="url(#ab)"/>
<circle cx="1044.20" cy="342.22" r="2.45" fill="url(#ap)"/>
<circle cx="1043.77" cy="374.03" r="2.45" fill="url(#ab)"/>
<circle cx="1030.33" cy="379.03" r="2.45" fill="url(#ab)"/>
<circle cx="1048.72" cy="335.57" r="2.45" fill="url(#ab)"/>
<circle cx="1026.58" cy="380.26" r="2.45" fill="url(#ap)"/>
<circle cx="1069.60" cy="352.54" r="2.45" fill="url(#ab)"/>
<circle cx="1069.64" cy="372.35" r="2.45" fill="url(#ap)"/>
<circle cx="1055.38" cy="366.18" r="2.45" fill="url(#ap)"/>
<circle cx="1056.37" cy="381.22" r="2.45" fill="url(#ap)"/>
<circle cx="1025.61" cy="343.21" r="2.45" fill="url(#ap)"/>
<circle cx="1042.47" cy="381.82" r="2.45" fill="url(#ab)"/>
<circle cx="1057.54" cy="351.21" r="2.45" fill="url(#ab)"/>
<circle cx="1051.60" cy="353.70" r="2.45" fill="url(#ap)"/>
<circle cx="1065.83" cy="349.61" r="2.45" fill="url(#ap)"/>
<circle cx="1047.92" cy="374.14" r="2.45" fill="url(#ab)"/>
<circle cx="1045.56" cy="354.64" r="2.45" fill="url(#ab)"/>
<circle cx="1079.24" cy="335.13" r="2.45" fill="url(#ab)"/>
<circle cx="1038.92" cy="387.24" r="2.45" fill="url(#ab)"/>
<circle cx="1081.70" cy="388.53" r="2.45" fill="url(#ap)"/>
<circle cx="1067.75" cy="358.25" r="2.45" fill="url(#ab)"/>
<circle cx="1054.22" cy="341.35" r="2.45" fill="url(#ab)"/>
<circle cx="1064.59" cy="361.02" r="2.45" fill="url(#ab)"/>
<circle cx="1029.04" cy="344.12" r="2.45" fill="url(#ab)"/>
<circle cx="1074.04" cy="353.52" r="2.45" fill="url(#ap)"/>
<circle cx="1059.86" cy="388.66" r="2.45" fill="url(#ap)"/>
<circle cx="1044.96" cy="351.84" r="2.45" fill="url(#ab)"/>
<circle cx="1039.18" cy="360.77" r="2.45" fill="url(#ap)"/>
<circle cx="1026.60" cy="355.43" r="2.45" fill="url(#ab)"/>
<circle cx="1041.27" cy="342.72" r="2.45" fill="url(#ap)"/>
<circle cx="1050.97" cy="361.86" r="2.45" fill="url(#ap)"/>
<circle cx="1064.01" cy="354.01" r="2.45" fill="url(#ab)"/>
<circle cx="1070.13" cy="339.43" r="2.45" fill="url(#ab)"/>
<circle cx="1048.84" cy="382.13" r="2.45" fill="url(#ab)"/>
<circle cx="1059.79" cy="351.32" r="2.45" fill="url(#ab)"/>
<circle cx="1079.97" cy="388.25" r="2.45" fill="url(#ap)"/>
<circle cx="1066.00" cy="348.07" r="2.45" fill="url(#ab)"/>
<circle cx="1024.63" cy="352.73" r="2.45" fill="url(#ap)"/>
<circle cx="1059.74" cy="390.47" r="2.45" fill="url(#ap)"/>
<circle cx="1086.60" cy="343.73" r="2.45" fill="url(#ab)"/>
<circle cx="1067.20" cy="356.56" r="2.45" fill="url(#ab)"/>
<circle cx="1066.48" cy="364.31" r="2.45" fill="url(#ab)"/>
<circle cx="1045.25" cy="350.44" r="2.45" fill="url(#ab)"/>
<circle cx="1068.25" cy="382.62" r="2.45" fill="url(#ab)"/>
<circle cx="1056.29" cy="333.75" r="2.45" fill="url(#ab)"/>
<circle cx="1037.30" cy="356.29" r="2.45" fill="url(#ab)"/>
<circle cx="1078.20" cy="365.67" r="2.45" fill="url(#ab)"/>
<circle cx="1047.06" cy="359.79" r="2.45" fill="url(#ab)"/>
<circle cx="1053.39" cy="356.16" r="2.45" fill="url(#ap)"/>
<circle cx="1058.46" cy="370.65" r="2.45" fill="url(#ab)"/>
<circle cx="1034.29" cy="370.18" r="2.45" fill="url(#ap)"/>
<circle cx="1050.27" cy="373.60" r="2.45" fill="url(#ap)"/>
<circle cx="1075.70" cy="341.31" r="2.45" fill="url(#ab)"/>
<circle cx="1026.42" cy="350.46" r="2.45" fill="url(#ap)"/>
<circle cx="1072.35" cy="368.93" r="2.45" fill="url(#ab)"/>
<circle cx="1044.03" cy="352.89" r="2.45" fill="url(#ab)"/>
<circle cx="1042.04" cy="388.10" r="2.45" fill="url(#ap)"/>
<circle cx="1045.24" cy="378.72" r="2.45" fill="url(#ap)"/>
<circle cx="1036.17" cy="363.57" r="2.45" fill="url(#ab)"/>
<circle cx="1046.85" cy="349.79" r="2.45" fill="url(#ap)"/>
<circle cx="1073.35" cy="370.98" r="2.45" fill="url(#ab)"/>
<circle cx="1073.77" cy="374.13" r="2.45" fill="url(#ab)"/>
<circle cx="1043.48" cy="371.63" r="2.45" fill="url(#ap)"/>
<circle cx="1085.21" cy="380.25" r="2.45" fill="url(#ab)"/>
<circle cx="1060.23" cy="346.43" r="2.45" fill="url(#ab)"/>
<circle cx="1055.97" cy="357.47" r="2.45" fill="url(#ab)"/>
<circle cx="1047.74" cy="345.67" r="2.45" fill="url(#ap)"/>
<circle cx="1049.98" cy="363.20" r="2.45" fill="url(#ab)"/>
<circle cx="1070.79" cy="350.14" r="2.45" fill="url(#ab)"/>
<circle cx="1066.56" cy="365.50" r="2.45" fill="url(#ap)"/>
<circle cx="1075.08" cy="382.35" r="2.45" fill="url(#ap)"/>
<circle cx="1052.87" cy="388.59" r="2.45" fill="url(#ap)"/>
<circle cx="1064.70" cy="373.02" r="2.45" fill="url(#ab)"/>
<circle cx="1076.37" cy="353.38" r="2.45" fill="url(#ab)"/>
<circle cx="1051.99" cy="347.73" r="2.45" fill="url(#ab)"/>
<circle cx="1045.74" cy="384.42" r="2.45" fill="url(#ab)"/>
<circle cx="1083.36" cy="353.71" r="2.45" fill="url(#ap)"/>
<circle cx="1039.66" cy="375.42" r="2.45" fill="url(#ab)"/>
<circle cx="1054.47" cy="348.21" r="2.45" fill="url(#ap)"/>
<circle cx="1079.69" cy="346.55" r="2.45" fill="url(#ap)"/>
<circle cx="1060.77" cy="374.51" r="2.45" fill="url(#ap)"/>
<circle cx="1025.76" cy="374.17" r="2.45" fill="url(#ab)"/>
<circle cx="1030.53" cy="374.22" r="2.45" fill="url(#ap)"/>
<circle cx="1027.70" cy="385.91" r="2.45" fill="url(#ap)"/>
<circle cx="1025.33" cy="373.60" r="2.45" fill="url(#ap)"/>
<circle cx="1082.54" cy="362.24" r="2.45" fill="url(#ab)"/>
<circle cx="1044.96" cy="385.02" r="2.45" fill="url(#ab)"/>
<circle cx="1058.16" cy="389.83" r="2.45" fill="url(#ab)"/>
<circle cx="1079.98" cy="364.52" r="2.45" fill="url(#ap)"/>
<circle cx="1041.03" cy="371.11" r="2.45" fill="url(#ab)"/>
<circle cx="1042.56" cy="388.74" r="2.45" fill="url(#ap)"/>
<circle cx="1050.28" cy="368.90" r="2.45" fill="url(#ap)"/>
<circle cx="1066.31" cy="352.95" r="2.45" fill="url(#ab)"/>
<circle cx="1054.47" cy="343.11" r="2.45" fill="url(#ap)"/>
<circle cx="1066.16" cy="377.49" r="2.45" fill="url(#ap)"/>
<circle cx="1059.64" cy="373.90" r="2.45" fill="url(#ap)"/>
<circle cx="1025.95" cy="369.39" r="2.45" fill="url(#ap)"/>
<circle cx="1029.61" cy="334.74" r="2.45" fill="url(#ap)"/>
<circle cx="1026.50" cy="341.41" r="2.45" fill="url(#ab)"/>
<circle cx="1076.76" cy="378.03" r="2.45" fill="url(#ap)"/>
<circle cx="1085.20" cy="351.76" r="2.45" fill="url(#ap)"/>
<circle cx="1038.37" cy="349.03" r="2.45" fill="url(#ab)"/>
<circle cx="1036.17" cy="376.43" r="2.45" fill="url(#ap)"/>
<circle cx="1047.38" cy="373.54" r="2.45" fill="url(#ap)"/>
<circle cx="1037.60" cy="332.66" r="2.45" fill="url(#ab)"/>
<circle cx="1058.31" cy="379.66" r="2.45" fill="url(#ap)"/>
<circle cx="1030.52" cy="363.72" r="2.45" fill="url(#ap)"/>
<circle cx="1041.07" cy="354.83" r="2.45" fill="url(#ab)"/>
<circle cx="1065.11" cy="361.79" r="2.45" fill="url(#ap)"/>
<circle cx="1038.45" cy="333.86" r="2.45" fill="url(#ab)"/>
<circle cx="1036.04" cy="357.15" r="2.45" fill="url(#ap)"/>
<circle cx="1058.83" cy="344.53" r="2.45" fill="url(#ap)"/>
<circle cx="1044.82" cy="364.31" r="2.45" fill="url(#ab)"/>
<circle cx="1064.26" cy="366.31" r="2.45" fill="url(#ab)"/>
<circle cx="1067.57" cy="341.96" r="2.45" fill="url(#ab)"/>
<circle cx="1062.43" cy="370.40" r="2.45" fill="url(#ap)"/>
<circle cx="1084.57" cy="358.73" r="2.45" fill="url(#ap)"/>
<circle cx="1025.91" cy="353.72" r="2.45" fill="url(#ap)"/>
<circle cx="1025.89" cy="373.76" r="2.45" fill="url(#ab)"/>
<circle cx="1058.27" cy="386.18" r="2.45" fill="url(#ap)"/>
<circle cx="1032.35" cy="390.02" r="2.45" fill="url(#ab)"/>
<circle cx="1044.33" cy="373.96" r="2.45" fill="url(#ap)"/>
<circle cx="1058.42" cy="343.07" r="2.45" fill="url(#ab)"/>
<circle cx="1043.02" cy="378.30" r="2.45" fill="url(#ab)"/>
<circle cx="1042.35" cy="362.21" r="2.45" fill="url(#ap)"/>
<circle cx="1067.44" cy="391.08" r="2.45" fill="url(#ap)"/>
<circle cx="1071.33" cy="373.83" r="2.45" fill="url(#ab)"/>
<circle cx="1040.22" cy="334.17" r="2.45" fill="url(#ap)"/>
<circle cx="1068.47" cy="340.15" r="2.45" fill="url(#ab)"/>
<circle cx="1079.45" cy="365.38" r="2.45" fill="url(#ap)"/>
<circle cx="1072.11" cy="350.73" r="2.45" fill="url(#ab)"/>
<circle cx="1083.38" cy="339.76" r="2.45" fill="url(#ap)"/>
<circle cx="1030.17" cy="359.35" r="2.45" fill="url(#ab)"/>
<circle cx="1049.47" cy="333.53" r="2.45" fill="url(#ab)"/>
<circle cx="1056.84" cy="353.80" r="2.45" fill="url(#ab)"/>
<circle cx="1036.23" cy="367.23" r="2.45" fill="url(#ab)"/>
<circle cx="1078.89" cy="351.18" r="2.45" fill="url(#ap)"/>
<circle cx="1051.39" cy="338.33" r="2.45" fill="url(#ab)"/>
<circle cx="1047.72" cy="336.26" r="2.45" fill="url(#ap)"/>
<circle cx="1030.17" cy="391.49" r="2.45" fill="url(#ab)"/>
<circle cx="1056.82" cy="378.44" r="2.45" fill="url(#ab)"/>
<circle cx="1036.66" cy="377.33" r="2.45" fill="url(#ab)"/>
<circle cx="1079.45" cy="360.01" r="2.45" fill="url(#ab)"/>
<circle cx="1069.89" cy="377.48" r="2.45" fill="url(#ap)"/>
<circle cx="1050.66" cy="389.74" r="2.45" fill="url(#ap)"/>
<circle cx="1023.77" cy="365.16" r="2.45" fill="url(#ab)"/>
<circle cx="1039.35" cy="346.59" r="2.45" fill="url(#ab)"/>
<circle cx="1050.52" cy="378.73" r="2.45" fill="url(#ab)"/>
<circle cx="1056.59" cy="381.40" r="2.45" fill="url(#ab)"/>
<circle cx="1059.39" cy="376.97" r="2.45" fill="url(#ap)"/>
<circle cx="1036.94" cy="333.89" r="2.45" fill="url(#ab)"/>
<circle cx="1029.74" cy="384.80" r="2.45" fill="url(#ab)"/>
<circle cx="1080.56" cy="342.69" r="2.45" fill="url(#ab)"/>
<circle cx="1064.02" cy="344.25" r="2.45" fill="url(#ap)"/>
<circle cx="1056.61" cy="347.61" r="2.45" fill="url(#ap)"/>
<circle cx="1036.76" cy="366.66" r="2.45" fill="url(#ab)"/>
<circle cx="1062.59" cy="375.04" r="2.45" fill="url(#ab)"/>
<circle cx="1025.14" cy="346.28" r="2.45" fill="url(#ap)"/>
<circle cx="1039.15" cy="343.42" r="2.45" fill="url(#ab)"/>
<circle cx="1032.86" cy="366.47" r="2.45" fill="url(#ab)"/>
<circle cx="1024.62" cy="370.60" r="2.45" fill="url(#ap)"/>
<circle cx="1054.88" cy="340.85" r="2.45" fill="url(#ap)"/>
<circle cx="1078.66" cy="372.46" r="2.45" fill="url(#ap)"/>
<circle cx="1067.89" cy="367.81" r="2.45" fill="url(#ap)"/>
<circle cx="1059.89" cy="347.42" r="2.45" fill="url(#ap)"/>
<circle cx="1080.77" cy="387.45" r="2.45" fill="url(#ap)"/>
<circle cx="1034.00" cy="364.86" r="2.45" fill="url(#ab)"/>
<circle cx="1051.31" cy="341.09" r="2.45" fill="url(#ap)"/>
<circle cx="1033.88" cy="373.06" r="2.45" fill="url(#ab)"/>
<circle cx="1025.23" cy="349.66" r="2.45" fill="url(#ap)"/>
<circle cx="1031.96" cy="345.73" r="2.45" fill="url(#ab)"/>
<circle cx="1027.23" cy="353.87" r="2.45" fill="url(#ab)"/>
<circle cx="1066.09" cy="381.04" r="2.45" fill="url(#ab)"/>
<circle cx="1077.76" cy="348.56" r="2.45" fill="url(#ab)"/>
<circle cx="1049.58" cy="337.52" r="2.45" fill="url(#ab)"/>
<circle cx="1078.06" cy="385.14" r="2.45" fill="url(#ap)"/>
<circle cx="1040.43" cy="380.32" r="2.45" fill="url(#ap)"/>
<circle cx="1074.70" cy="336.47" r="2.45" fill="url(#ab)"/>
<circle cx="1036.67" cy="346.62" r="2.45" fill="url(#ap)"/>
<circle cx="1063.58" cy="348.23" r="2.45" fill="url(#ab)"/>
<circle cx="1065.84" cy="387.79" r="2.45" fill="url(#ap)"/>
<circle cx="1074.02" cy="384.27" r="2.45" fill="url(#ab)"/>
<circle cx="1047.97" cy="382.21" r="2.45" fill="url(#ab)"/>
<circle cx="1061.48" cy="358.29" r="2.45" fill="url(#ab)"/>
<circle cx="1038.83" cy="375.91" r="2.45" fill="url(#ab)"/>
<circle cx="1070.90" cy="341.31" r="2.45" fill="url(#ap)"/>
<circle cx="1065.75" cy="344.49" r="2.45" fill="url(#ap)"/>
<circle cx="1067.54" cy="392.26" r="2.45" fill="url(#ap)"/>
<circle cx="1067.66" cy="349.03" r="2.45" fill="url(#ab)"/>
<circle cx="1025.31" cy="361.16" r="2.45" fill="url(#ap)"/>
<circle cx="1022.65" cy="378.89" r="2.45" fill="url(#ab)"/>
<circle cx="1054.35" cy="366.21" r="2.45" fill="url(#ab)"/>
<circle cx="1040.30" cy="352.64" r="2.45" fill="url(#ap)"/>
<circle cx="1050.68" cy="391.76" r="2.45" fill="url(#ab)"/>
<circle cx="1077.46" cy="382.04" r="2.45" fill="url(#ab)"/>
<circle cx="1047.17" cy="381.55" r="2.45" fill="url(#ab)"/>
<circle cx="1076.86" cy="361.26" r="2.45" fill="url(#ap)"/>
<circle cx="1077.09" cy="342.32" r="2.45" fill="url(#ab)"/>
<circle cx="1052.98" cy="380.96" r="2.45" fill="url(#ap)"/>
<circle cx="1028.36" cy="344.72" r="2.45" fill="url(#ap)"/>
<circle cx="1058.22" cy="364.68" r="2.45" fill="url(#ap)"/>
<circle cx="1052.05" cy="374.69" r="2.45" fill="url(#ap)"/>
<circle cx="1043.84" cy="357.35" r="2.45" fill="url(#ab)"/>
<circle cx="1080.61" cy="381.32" r="2.45" fill="url(#ap)"/>
<circle cx="1050.00" cy="378.32" r="2.45" fill="url(#ap)"/>
<circle cx="1045.62" cy="337.60" r="2.45" fill="url(#ab)"/>
<circle cx="1021.74" cy="363.52" r="2.45" fill="url(#ab)"/>
<circle cx="1042.16" cy="380.72" r="2.45" fill="url(#ab)"/>
<circle cx="1078.97" cy="364.43" r="2.45" fill="url(#ab)"/>
<circle cx="1024.87" cy="382.77" r="2.45" fill="url(#ap)"/>
<circle cx="1062.02" cy="334.83" r="2.45" fill="url(#ap)"/>
<circle cx="1071.30" cy="341.50" r="2.45" fill="url(#ap)"/>
<circle cx="1080.57" cy="360.92" r="2.45" fill="url(#ab)"/>
<circle cx="1035.45" cy="360.88" r="2.45" fill="url(#ap)"/>
<circle cx="1078.74" cy="359.41" r="2.45" fill="url(#ab)"/>
<circle cx="1036.99" cy="381.96" r="2.45" fill="url(#ap)"/>
<circle cx="1024.53" cy="344.58" r="2.45" fill="url(#ap)"/>
<circle cx="1070.89" cy="343.16" r="2.45" fill="url(#ab)"/>
<circle cx="1058.07" cy="390.90" r="2.45" fill="url(#ap)"/>
<circle cx="1022.12" cy="357.31" r="2.45" fill="url(#ab)"/>
<circle cx="1024.08" cy="389.50" r="2.45" fill="url(#ap)"/>
<circle cx="1060.52" cy="361.93" r="2.45" fill="url(#ab)"/>
<circle cx="1077.01" cy="348.89" r="2.45" fill="url(#ab)"/>
<circle cx="1052.57" cy="352.46" r="2.45" fill="url(#ap)"/>
<circle cx="1070.02" cy="371.14" r="2.45" fill="url(#ab)"/>
<circle cx="1047.64" cy="362.41" r="2.45" fill="url(#ab)"/>
<circle cx="1079.88" cy="370.27" r="2.45" fill="url(#ab)"/>
<circle cx="1051.53" cy="357.00" r="2.45" fill="url(#ab)"/>
<circle cx="1070.50" cy="388.32" r="2.45" fill="url(#ap)"/>
<circle cx="1052.36" cy="389.94" r="2.45" fill="url(#ap)"/>
<circle cx="1050.57" cy="346.83" r="2.45" fill="url(#ap)"/>
<circle cx="1076.31" cy="388.36" r="2.45" fill="url(#ap)"/>
<circle cx="1080.91" cy="389.38" r="2.45" fill="url(#ap)"/>
<circle cx="1065.93" cy="338.59" r="2.45" fill="url(#ab)"/>
<circle cx="1068.53" cy="357.73" r="2.45" fill="url(#ap)"/>
<circle cx="1072.83" cy="358.53" r="2.45" fill="url(#ab)"/>
<circle cx="1040.58" cy="340.04" r="2.45" fill="url(#ap)"/>
<circle cx="1054.32" cy="361.67" r="2.45" fill="url(#ap)"/>
<circle cx="1055.74" cy="377.22" r="2.45" fill="url(#ap)"/>
<circle cx="1072.01" cy="357.29" r="2.45" fill="url(#ab)"/>
<circle cx="1032.85" cy="377.69" r="2.45" fill="url(#ap)"/>
<circle cx="1056.82" cy="348.79" r="2.45" fill="url(#ab)"/>
<circle cx="1036.09" cy="376.79" r="2.45" fill="url(#ab)"/>
<circle cx="1049.33" cy="379.68" r="2.45" fill="url(#ab)"/>
<circle cx="1035.56" cy="352.23" r="2.45" fill="url(#ab)"/>
<circle cx="1047.38" cy="387.97" r="2.45" fill="url(#ab)"/>
<circle cx="1053.97" cy="381.27" r="2.45" fill="url(#ap)"/>
<circle cx="1065.47" cy="377.51" r="2.45" fill="url(#ap)"/>
<circle cx="1072.50" cy="354.01" r="2.45" fill="url(#ap)"/>
<circle cx="1076.84" cy="362.76" r="2.45" fill="url(#ab)"/>
<circle cx="1071.15" cy="387.92" r="2.45" fill="url(#ab)"/>
<circle cx="1073.02" cy="376.42" r="2.45" fill="url(#ab)"/>
<circle cx="1026.32" cy="356.61" r="2.45" fill="url(#ab)"/>
<circle cx="1057.56" cy="336.56" r="2.45" fill="url(#ab)"/>
<circle cx="1042.63" cy="379.17" r="2.45" fill="url(#ap)"/>
<circle cx="1034.06" cy="339.24" r="2.45" fill="url(#ap)"/>
<circle cx="1033.51" cy="362.32" r="2.45" fill="url(#ab)"/>
<circle cx="1081.10" cy="338.22" r="2.45" fill="url(#ab)"/>
<circle cx="1024.96" cy="347.91" r="2.45" fill="url(#ap)"/>
<circle cx="1041.88" cy="337.64" r="2.45" fill="url(#ab)"/>
<circle cx="1067.43" cy="340.78" r="2.45" fill="url(#ap)"/>
<circle cx="1039.55" cy="339.23" r="2.45" fill="url(#ab)"/>
<circle cx="1057.07" cy="348.30" r="2.45" fill="url(#ap)"/>
<circle cx="1050.43" cy="375.24" r="2.45" fill="url(#ap)"/>
<circle cx="1071.72" cy="370.05" r="2.45" fill="url(#ab)"/>
<circle cx="1047.59" cy="391.18" r="2.45" fill="url(#ap)"/>
<circle cx="1074.36" cy="348.21" r="2.45" fill="url(#ab)"/>
<circle cx="1033.73" cy="365.96" r="2.45" fill="url(#ap)"/>
<circle cx="1055.25" cy="356.73" r="2.45" fill="url(#ap)"/>
<circle cx="1070.32" cy="340.08" r="2.45" fill="url(#ap)"/>
<circle cx="1034.53" cy="369.11" r="2.45" fill="url(#ap)"/>
<circle cx="1022.57" cy="370.32" r="2.45" fill="url(#ab)"/>
<circle cx="1029.64" cy="390.84" r="2.45" fill="url(#ab)"/>
<circle cx="1073.36" cy="371.22" r="2.45" fill="url(#ap)"/>
<circle cx="1060.06" cy="392.22" r="2.45" fill="url(#ab)"/>
<circle cx="1068.42" cy="354.65" r="2.45" fill="url(#ap)"/>
<circle cx="1059.85" cy="355.88" r="2.45" fill="url(#ap)"/>
<circle cx="1036.81" cy="351.82" r="2.45" fill="url(#ap)"/>
<circle cx="1046.05" cy="347.63" r="2.45" fill="url(#ap)"/>
<circle cx="1059.19" cy="381.00" r="2.45" fill="url(#ab)"/>
<circle cx="1023.07" cy="339.27" r="2.45" fill="url(#ap)"/>
<circle cx="1032.38" cy="336.06" r="2.45" fill="url(#ab)"/>
<circle cx="1046.84" cy="361.19" r="2.45" fill="url(#ap)"/>
<circle cx="1020.39" cy="380.58" r="2.45" fill="url(#ap)"/>
<circle cx="1038.60" cy="337.61" r="2.45" fill="url(#ap)"/>
<circle cx="1034.43" cy="373.76" r="2.45" fill="url(#ap)"/>
<circle cx="1029.30" cy="354.15" r="2.45" fill="url(#ap)"/>
<circle cx="1038.26" cy="378.80" r="2.45" fill="url(#ab)"/>
<circle cx="1081.73" cy="347.76" r="2.45" fill="url(#ap)"/>
<circle cx="1058.08" cy="389.50" r="2.45" fill="url(#ab)"/>
<circle cx="1048.88" cy="354.43" r="2.45" fill="url(#ab)"/>
<circle cx="1022.67" cy="340.71" r="2.45" fill="url(#ab)"/>
<circle cx="1078.43" cy="388.49" r="2.45" fill="url(#ap)"/>
<circle cx="1074.12" cy="377.23" r="2.45" fill="url(#ap)"/>
<circle cx="1044.65" cy="376.86" r="2.45" fill="url(#ap)"/>
<circle cx="1049.10" cy="379.18" r="2.45" fill="url(#ab)"/>
<circle cx="1052.93" cy="349.24" r="2.45" fill="url(#ab)"/>
<circle cx="1066.75" cy="346.46" r="2.45" fill="url(#ap)"/>
<circle cx="1037.78" cy="381.15" r="2.45" fill="url(#ab)"/>
<circle cx="1031.70" cy="340.21" r="2.45" fill="url(#ap)"/>
<circle cx="1022.96" cy="346.54" r="2.45" fill="url(#ab)"/>
<circle cx="1068.79" cy="364.28" r="2.45" fill="url(#ap)"/>
<circle cx="1075.09" cy="343.25" r="2.45" fill="url(#ap)"/>
<circle cx="1020.71" cy="384.31" r="2.45" fill="url(#ab)"/>
<circle cx="1068.68" cy="382.05" r="2.45" fill="url(#ab)"/>
<circle cx="1038.43" cy="358.71" r="2.45" fill="url(#ab)"/>
<circle cx="1031.50" cy="346.06" r="2.45" fill="url(#ap)"/>
<circle cx="1029.89" cy="378.06" r="2.45" fill="url(#ap)"/>
<circle cx="1024.45" cy="382.59" r="2.45" fill="url(#ap)"/>
<circle cx="1057.63" cy="385.96" r="2.45" fill="url(#ap)"/>
<circle cx="1067.15" cy="378.74" r="2.45" fill="url(#ab)"/>
<circle cx="1029.19" cy="382.39" r="2.45" fill="url(#ap)"/>
<circle cx="1028.48" cy="346.80" r="2.45" fill="url(#ap)"/>
<circle cx="1064.42" cy="339.50" r="2.45" fill="url(#ap)"/>
<circle cx="1020.46" cy="346.91" r="2.45" fill="url(#ap)"/>
<circle cx="1020.51" cy="369.49" r="2.45" fill="url(#ab)"/>
<circle cx="1056.36" cy="340.78" r="2.45" fill="url(#ab)"/>
<circle cx="1064.17" cy="370.58" r="2.45" fill="url(#ab)"/>
<circle cx="1045.51" cy="383.01" r="2.45" fill="url(#ap)"/>
<circle cx="1079.24" cy="363.99" r="2.45" fill="url(#ab)"/>
<circle cx="1025.75" cy="346.43" r="2.45" fill="url(#ab)"/>
<circle cx="1042.90" cy="381.66" r="2.45" fill="url(#ab)"/>
<circle cx="1040.46" cy="347.16" r="2.45" fill="url(#ap)"/>
<circle cx="1058.15" cy="380.94" r="2.45" fill="url(#ab)"/>
<circle cx="1032.55" cy="394.01" r="2.45" fill="url(#ab)"/>
<circle cx="1024.53" cy="384.38" r="2.45" fill="url(#ap)"/>
<circle cx="1081.25" cy="382.81" r="2.45" fill="url(#ap)"/>
<circle cx="1080.35" cy="363.53" r="2.45" fill="url(#ab)"/>
<circle cx="1076.38" cy="344.11" r="2.45" fill="url(#ap)"/>
<circle cx="1047.97" cy="374.08" r="2.45" fill="url(#ap)"/>
<circle cx="1058.07" cy="362.55" r="2.45" fill="url(#ab)"/>
<circle cx="1037.70" cy="375.69" r="2.45" fill="url(#ab)"/>
<circle cx="1039.28" cy="375.00" r="2.45" fill="url(#ab)"/>
<circle cx="1040.99" cy="365.16" r="2.45" fill="url(#ap)"/>
<circle cx="1076.77" cy="388.65" r="2.45" fill="url(#ap)"/>
<circle cx="1065.22" cy="359.66" r="2.45" fill="url(#ab)"/>
<circle cx="1070.10" cy="350.51" r="2.45" fill="url(#ap)"/>
<circle cx="1081.40" cy="366.93" r="2.45" fill="url(#ap)"/>
<circle cx="1050.24" cy="376.25" r="2.45" fill="url(#ab)"/>
<circle cx="1050.51" cy="370.49" r="2.45" fill="url(#ap)"/>
<circle cx="1023.38" cy="366.93" r="2.45" fill="url(#ap)"/>
<circle cx="1054.35" cy="344.49" r="2.45" fill="url(#ab)"/>
<circle cx="1034.57" cy="387.58" r="2.45" fill="url(#ab)"/>
<circle cx="1059.62" cy="363.30" r="2.45" fill="url(#ab)"/>
<circle cx="1037.98" cy="340.48" r="2.45" fill="url(#ab)"/>
<circle cx="1035.78" cy="336.96" r="2.45" fill="url(#ab)"/>
<circle cx="1062.64" cy="385.68" r="2.45" fill="url(#ab)"/>
<circle cx="1056.46" cy="376.87" r="2.45" fill="url(#ab)"/>
<circle cx="1059.28" cy="381.67" r="2.45" fill="url(#ab)"/>
<circle cx="1048.20" cy="378.02" r="2.45" fill="url(#ab)"/>
<circle cx="1031.00" cy="363.93" r="2.45" fill="url(#ab)"/>
<circle cx="1033.17" cy="387.95" r="2.45" fill="url(#ab)"/>
<circle cx="1040.67" cy="363.83" r="2.45" fill="url(#ap)"/>
<circle cx="1024.93" cy="379.80" r="2.45" fill="url(#ap)"/>
<circle cx="1029.83" cy="368.45" r="2.45" fill="url(#ab)"/>
<circle cx="1031.00" cy="356.46" r="2.45" fill="url(#ab)"/>
<circle cx="1076.45" cy="365.78" r="2.45" fill="url(#ab)"/>
<circle cx="1029.03" cy="351.10" r="2.45" fill="url(#ap)"/>
<circle cx="1044.26" cy="367.29" r="2.45" fill="url(#ab)"/>
<circle cx="1049.52" cy="352.58" r="2.45" fill="url(#ab)"/>
<circle cx="1072.74" cy="346.90" r="2.45" fill="url(#ap)"/>
<circle cx="1063.77" cy="375.48" r="2.45" fill="url(#ab)"/>
<circle cx="1037.60" cy="360.27" r="2.45" fill="url(#ap)"/>
<circle cx="1067.93" cy="350.22" r="2.45" fill="url(#ab)"/>
<circle cx="1019.24" cy="369.60" r="2.45" fill="url(#ap)"/>
<circle cx="1030.59" cy="363.83" r="2.45" fill="url(#ab)"/>
<circle cx="1029.18" cy="342.46" r="2.45" fill="url(#ab)"/>
<circle cx="1039.09" cy="382.72" r="2.45" fill="url(#ab)"/>
<circle cx="1054.67" cy="354.95" r="2.45" fill="url(#ab)"/>
<circle cx="1067.80" cy="337.40" r="2.45" fill="url(#ab)"/>
<circle cx="1036.34" cy="351.24" r="2.45" fill="url(#ab)"/>
<circle cx="1056.78" cy="390.93" r="2.45" fill="url(#ap)"/>
<circle cx="1061.56" cy="363.86" r="2.45" fill="url(#ab)"/>
<circle cx="1029.01" cy="366.68" r="2.45" fill="url(#ab)"/>
<circle cx="1079.86" cy="373.12" r="2.45" fill="url(#ap)"/>
<circle cx="1047.62" cy="392.99" r="2.45" fill="url(#ab)"/>
<circle cx="1033.58" cy="365.22" r="2.45" fill="url(#ab)"/>
<circle cx="1063.81" cy="395.04" r="2.45" fill="url(#ab)"/>
<circle cx="1070.57" cy="340.81" r="2.45" fill="url(#ap)"/>
<circle cx="1019.41" cy="346.39" r="2.45" fill="url(#ab)"/>
<circle cx="1045.92" cy="362.21" r="2.45" fill="url(#ab)"/>
<circle cx="1063.98" cy="340.67" r="2.45" fill="url(#ap)"/>
<circle cx="1049.48" cy="369.97" r="2.45" fill="url(#ap)"/>
<circle cx="1063.93" cy="350.54" r="2.45" fill="url(#ap)"/>
<circle cx="1059.63" cy="368.82" r="2.45" fill="url(#ab)"/>
<circle cx="1032.25" cy="392.55" r="2.45" fill="url(#ap)"/>
<circle cx="1026.84" cy="346.87" r="2.45" fill="url(#ap)"/>
<circle cx="1073.02" cy="339.50" r="2.45" fill="url(#ap)"/>
<circle cx="1046.49" cy="386.75" r="2.45" fill="url(#ap)"/>
<circle cx="1055.57" cy="361.43" r="2.45" fill="url(#ab)"/>
<circle cx="1065.88" cy="394.76" r="2.45" fill="url(#ap)"/>
<circle cx="1053.19" cy="389.91" r="2.45" fill="url(#ap)"/>
<circle cx="1029.79" cy="358.78" r="2.45" fill="url(#ab)"/>
<circle cx="1034.47" cy="378.90" r="2.45" fill="url(#ab)"/>
<circle cx="1023.25" cy="344.96" r="2.45" fill="url(#ap)"/>
<circle cx="1057.11" cy="383.44" r="2.45" fill="url(#ab)"/>
<circle cx="1032.16" cy="374.01" r="2.45" fill="url(#ab)"/>
<circle cx="1034.04" cy="371.44" r="2.45" fill="url(#ap)"/>
<circle cx="1023.62" cy="389.60" r="2.45" fill="url(#ab)"/>
<circle cx="1053.14" cy="344.36" r="2.45" fill="url(#ap)"/>
<circle cx="1055.96" cy="391.78" r="2.45" fill="url(#ap)"/>
<circle cx="1035.33" cy="376.84" r="2.45" fill="url(#ap)"/>
<circle cx="1037.59" cy="359.43" r="2.45" fill="url(#ap)"/>
<circle cx="1072.43" cy="341.38" r="2.45" fill="url(#ap)"/>
<circle cx="1071.21" cy="357.32" r="2.45" fill="url(#ab)"/>
<circle cx="1053.97" cy="372.70" r="2.45" fill="url(#ap)"/>
<circle cx="1043.53" cy="365.46" r="2.45" fill="url(#ab)"/>
<circle cx="1067.03" cy="368.66" r="2.45" fill="url(#ap)"/>
<circle cx="1028.91" cy="369.14" r="2.45" fill="url(#ab)"/>
<circle cx="1034.80" cy="374.82" r="2.45" fill="url(#ap)"/>
<circle cx="1037.90" cy="354.32" r="2.45" fill="url(#ab)"/>
<circle cx="1024.99" cy="360.85" r="2.45" fill="url(#ap)"/>
<circle cx="1023.63" cy="368.80" r="2.45" fill="url(#ab)"/>
<circle cx="1056.04" cy="390.06" r="2.45" fill="url(#ap)"/>
<circle cx="1034.36" cy="392.25" r="2.45" fill="url(#ab)"/>
<circle cx="1048.03" cy="377.68" r="2.45" fill="url(#ap)"/>
<circle cx="1075.82" cy="374.93" r="2.45" fill="url(#ap)"/>
<circle cx="1033.43" cy="339.94" r="2.45" fill="url(#ap)"/>
<circle cx="1069.38" cy="383.37" r="2.45" fill="url(#ab)"/>
<circle cx="1032.54" cy="342.92" r="2.45" fill="url(#ap)"/>
<circle cx="1048.22" cy="373.03" r="2.45" fill="url(#ap)"/>
<circle cx="1066.64" cy="374.88" r="2.45" fill="url(#ap)"/>
<circle cx="1071.52" cy="388.34" r="2.45" fill="url(#ab)"/>
<circle cx="1073.45" cy="381.20" r="2.45" fill="url(#ap)"/>
<circle cx="1061.74" cy="344.10" r="2.45" fill="url(#ab)"/>
<circle cx="1041.61" cy="351.19" r="2.45" fill="url(#ab)"/>
<circle cx="1045.46" cy="381.10" r="2.45" fill="url(#ab)"/>
<circle cx="1040.82" cy="390.82" r="2.45" fill="url(#ab)"/>
<circle cx="1043.45" cy="341.70" r="2.45" fill="url(#ap)"/>
<circle cx="1021.94" cy="381.49" r="2.45" fill="url(#ap)"/>
<circle cx="1031.95" cy="391.55" r="2.45" fill="url(#ap)"/>
<circle cx="1027.86" cy="346.30" r="2.45" fill="url(#ab)"/>
<circle cx="1024.03" cy="365.01" r="2.45" fill="url(#ap)"/>
<circle cx="1055.26" cy="346.66" r="2.45" fill="url(#ap)"/>
<circle cx="1061.61" cy="354.84" r="2.45" fill="url(#ab)"/>
<circle cx="1031.02" cy="348.27" r="2.45" fill="url(#ap)"/></svg></body></html>
